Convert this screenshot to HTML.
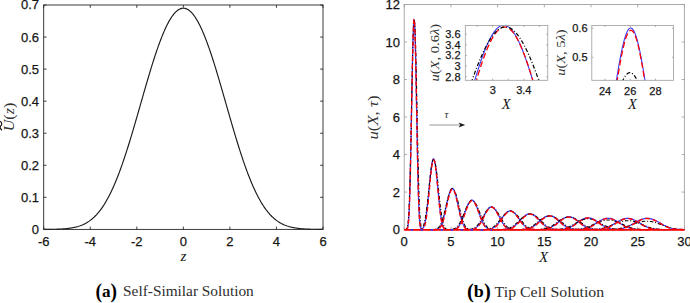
<!DOCTYPE html>
<html><head><meta charset="utf-8"><style>
html,body{margin:0;padding:0;background:#fff;}
body{width:690px;height:303px;overflow:hidden;}
svg{display:block;font-family:"Liberation Sans",sans-serif;}
.t{stroke:#161616;stroke-width:0.25px;}
</style></head><body>
<svg width="690" height="303" viewBox="0 0 690 303">
<rect width="690" height="303" fill="#fff"/>
<path d="M43.7,229.37 L44.4,229.37 L45.1,229.37 L45.8,229.36 L46.5,229.36 L47.2,229.35 L47.9,229.34 L48.6,229.34 L49.3,229.33 L50,229.32 L50.7,229.31 L51.4,229.3 L52.1,229.29 L52.8,229.28 L53.5,229.27 L54.2,229.25 L54.9,229.23 L55.6,229.22 L56.3,229.2 L57,229.17 L57.7,229.15 L58.4,229.12 L59.1,229.1 L59.8,229.07 L60.5,229.03 L61.2,229 L61.9,228.96 L62.6,228.91 L63.3,228.87 L64,228.82 L64.7,228.76 L65.4,228.7 L66.1,228.64 L66.8,228.57 L67.5,228.49 L68.2,228.41 L68.9,228.33 L69.6,228.24 L70.3,228.14 L71,228.03 L71.7,227.92 L72.4,227.8 L73.1,227.67 L73.8,227.53 L74.5,227.38 L75.2,227.22 L75.9,227.05 L76.6,226.87 L77.3,226.68 L78,226.48 L78.7,226.26 L79.4,226.04 L80.1,225.8 L80.8,225.54 L81.5,225.27 L82.2,224.98 L82.9,224.68 L83.6,224.36 L84.3,224.03 L85,223.67 L85.7,223.3 L86.4,222.91 L87.1,222.5 L87.8,222.07 L88.5,221.61 L89.2,221.14 L89.9,220.64 L90.6,220.12 L91.3,219.58 L92,219.01 L92.7,218.41 L93.4,217.79 L94.1,217.15 L94.8,216.47 L95.5,215.77 L96.2,215.04 L96.9,214.28 L97.6,213.49 L98.3,212.68 L99,211.83 L99.7,210.95 L100.4,210.03 L101.1,209.09 L101.8,208.11 L102.5,207.1 L103.2,206.06 L103.9,204.98 L104.6,203.87 L105.3,202.73 L106,201.55 L106.7,200.33 L107.4,199.08 L108.1,197.79 L108.8,196.47 L109.5,195.11 L110.2,193.72 L110.9,192.28 L111.6,190.82 L112.3,189.32 L113,187.78 L113.7,186.2 L114.4,184.59 L115.1,182.95 L115.8,181.27 L116.5,179.55 L117.2,177.8 L117.9,176.02 L118.6,174.2 L119.3,172.34 L120,170.46 L120.7,168.54 L121.4,166.59 L122.1,164.61 L122.8,162.6 L123.5,160.56 L124.2,158.49 L124.9,156.39 L125.6,154.27 L126.3,152.11 L127,149.94 L127.7,147.73 L128.4,145.51 L129.1,143.26 L129.8,140.99 L130.5,138.69 L131.2,136.38 L131.9,134.05 L132.6,131.71 L133.3,129.34 L134,126.97 L134.7,124.58 L135.4,122.17 L136.1,119.76 L136.8,117.34 L137.5,114.91 L138.2,112.47 L138.9,110.03 L139.6,107.58 L140.3,105.14 L141,102.69 L141.7,100.24 L142.4,97.79 L143.1,95.35 L143.8,92.92 L144.5,90.49 L145.2,88.06 L145.9,85.65 L146.6,83.25 L147.3,80.87 L148,78.49 L148.7,76.14 L149.4,73.8 L150.1,71.48 L150.8,69.18 L151.5,66.9 L152.2,64.65 L152.9,62.42 L153.6,60.22 L154.3,58.05 L155,55.9 L155.7,53.79 L156.4,51.71 L157.1,49.67 L157.8,47.66 L158.5,45.68 L159.2,43.75 L159.9,41.85 L160.6,39.99 L161.3,38.18 L162,36.41 L162.7,34.68 L163.4,33 L164.1,31.37 L164.8,29.78 L165.5,28.25 L166.2,26.76 L166.9,25.32 L167.6,23.94 L168.3,22.61 L169,21.33 L169.7,20.11 L170.4,18.95 L171.1,17.84 L171.8,16.78 L172.5,15.79 L173.2,14.85 L173.9,13.98 L174.6,13.16 L175.3,12.41 L176,11.71 L176.7,11.08 L177.4,10.51 L178.1,10 L178.8,9.55 L179.5,9.17 L180.2,8.85 L180.9,8.6 L181.6,8.41 L182.3,8.28 L183,8.21 L183.7,8.21 L184.4,8.28 L185.1,8.41 L185.8,8.6 L186.5,8.85 L187.2,9.17 L187.9,9.55 L188.6,10 L189.3,10.51 L190,11.08 L190.7,11.71 L191.4,12.41 L192.1,13.16 L192.8,13.98 L193.5,14.85 L194.2,15.79 L194.9,16.78 L195.6,17.84 L196.3,18.95 L197,20.11 L197.7,21.33 L198.4,22.61 L199.1,23.94 L199.8,25.32 L200.5,26.76 L201.2,28.25 L201.9,29.78 L202.6,31.37 L203.3,33 L204,34.68 L204.7,36.41 L205.4,38.18 L206.1,39.99 L206.8,41.85 L207.5,43.75 L208.2,45.68 L208.9,47.66 L209.6,49.67 L210.3,51.71 L211,53.79 L211.7,55.9 L212.4,58.05 L213.1,60.22 L213.8,62.42 L214.5,64.65 L215.2,66.9 L215.9,69.18 L216.6,71.48 L217.3,73.8 L218,76.14 L218.7,78.49 L219.4,80.87 L220.1,83.25 L220.8,85.65 L221.5,88.06 L222.2,90.49 L222.9,92.92 L223.6,95.35 L224.3,97.79 L225,100.24 L225.7,102.69 L226.4,105.14 L227.1,107.58 L227.8,110.03 L228.5,112.47 L229.2,114.91 L229.9,117.34 L230.6,119.76 L231.3,122.17 L232,124.58 L232.7,126.97 L233.4,129.34 L234.1,131.71 L234.8,134.05 L235.5,136.38 L236.2,138.69 L236.9,140.99 L237.6,143.26 L238.3,145.51 L239,147.73 L239.7,149.94 L240.4,152.11 L241.1,154.27 L241.8,156.39 L242.5,158.49 L243.2,160.56 L243.9,162.6 L244.6,164.61 L245.3,166.59 L246,168.54 L246.7,170.46 L247.4,172.34 L248.1,174.2 L248.8,176.02 L249.5,177.8 L250.2,179.55 L250.9,181.27 L251.6,182.95 L252.3,184.59 L253,186.2 L253.7,187.78 L254.4,189.32 L255.1,190.82 L255.8,192.28 L256.5,193.72 L257.2,195.11 L257.9,196.47 L258.6,197.79 L259.3,199.08 L260,200.33 L260.7,201.55 L261.4,202.73 L262.1,203.87 L262.8,204.98 L263.5,206.06 L264.2,207.1 L264.9,208.11 L265.6,209.09 L266.3,210.03 L267,210.95 L267.7,211.83 L268.4,212.68 L269.1,213.49 L269.8,214.28 L270.5,215.04 L271.2,215.77 L271.9,216.47 L272.6,217.15 L273.3,217.79 L274,218.41 L274.7,219.01 L275.4,219.58 L276.1,220.12 L276.8,220.64 L277.5,221.14 L278.2,221.61 L278.9,222.07 L279.6,222.5 L280.3,222.91 L281,223.3 L281.7,223.67 L282.4,224.03 L283.1,224.36 L283.8,224.68 L284.5,224.98 L285.2,225.27 L285.9,225.54 L286.6,225.8 L287.3,226.04 L288,226.26 L288.7,226.48 L289.4,226.68 L290.1,226.87 L290.8,227.05 L291.5,227.22 L292.2,227.38 L292.9,227.53 L293.6,227.67 L294.3,227.8 L295,227.92 L295.7,228.03 L296.4,228.14 L297.1,228.24 L297.8,228.33 L298.5,228.41 L299.2,228.49 L299.9,228.57 L300.6,228.64 L301.3,228.7 L302,228.76 L302.7,228.82 L303.4,228.87 L304.1,228.91 L304.8,228.96 L305.5,229 L306.2,229.03 L306.9,229.07 L307.6,229.1 L308.3,229.12 L309,229.15 L309.7,229.17 L310.4,229.2 L311.1,229.22 L311.8,229.23 L312.5,229.25 L313.2,229.27 L313.9,229.28 L314.6,229.29 L315.3,229.3 L316,229.31 L316.7,229.32 L317.4,229.33 L318.1,229.34 L318.8,229.34 L319.5,229.35 L320.2,229.36 L320.9,229.36 L321.6,229.37 L322.3,229.37 L323,229.37" fill="none" stroke="#1a1a1a" stroke-width="1.15"/>
<rect x="43.7" y="5" width="279.3" height="224.4" fill="none" stroke="#262626" stroke-width="0.9"/>
<path d="M43.7,229.4 V226.6 M43.7,5 V7.8 M90.25,229.4 V226.6 M90.25,5 V7.8 M136.8,229.4 V226.6 M136.8,5 V7.8 M183.35,229.4 V226.6 M183.35,5 V7.8 M229.9,229.4 V226.6 M229.9,5 V7.8 M276.45,229.4 V226.6 M276.45,5 V7.8 M323,229.4 V226.6 M323,5 V7.8 M43.7,229.4 H46.5 M323,229.4 H320.2 M43.7,197.34 H46.5 M323,197.34 H320.2 M43.7,165.29 H46.5 M323,165.29 H320.2 M43.7,133.23 H46.5 M323,133.23 H320.2 M43.7,101.17 H46.5 M323,101.17 H320.2 M43.7,69.11 H46.5 M323,69.11 H320.2 M43.7,37.06 H46.5 M323,37.06 H320.2 M43.7,5 H46.5 M323,5 H320.2" stroke="#262626" stroke-width="0.9" fill="none"/>
<text x="43.7" y="246" font-size="13" class="t" text-anchor="middle" fill="#161616">-6</text>
<text x="90.25" y="246" font-size="13" class="t" text-anchor="middle" fill="#161616">-4</text>
<text x="136.8" y="246" font-size="13" class="t" text-anchor="middle" fill="#161616">-2</text>
<text x="183.35" y="246" font-size="13" class="t" text-anchor="middle" fill="#161616">0</text>
<text x="229.9" y="246" font-size="13" class="t" text-anchor="middle" fill="#161616">2</text>
<text x="276.45" y="246" font-size="13" class="t" text-anchor="middle" fill="#161616">4</text>
<text x="323" y="246" font-size="13" class="t" text-anchor="middle" fill="#161616">6</text>
<text x="39" y="234" font-size="13" class="t" text-anchor="end" fill="#161616">0</text>
<text x="39" y="201.94" font-size="13" class="t" text-anchor="end" fill="#161616">0.1</text>
<text x="39" y="169.89" font-size="13" class="t" text-anchor="end" fill="#161616">0.2</text>
<text x="39" y="137.83" font-size="13" class="t" text-anchor="end" fill="#161616">0.3</text>
<text x="39" y="105.77" font-size="13" class="t" text-anchor="end" fill="#161616">0.4</text>
<text x="39" y="73.71" font-size="13" class="t" text-anchor="end" fill="#161616">0.5</text>
<text x="39" y="41.66" font-size="13" class="t" text-anchor="end" fill="#161616">0.6</text>
<text x="39" y="9.1" font-size="13" class="t" text-anchor="end" fill="#161616">0.7</text>
<rect x="404.2" y="4.5" width="280.2" height="225.1" fill="none" stroke="#a2a2a2" stroke-width="0.9"/>
<path d="M404.2,229.6 V226.8 M404.2,4.5 V7.3 M450.9,229.6 V226.8 M450.9,4.5 V7.3 M497.6,229.6 V226.8 M497.6,4.5 V7.3 M544.3,229.6 V226.8 M544.3,4.5 V7.3 M591,229.6 V226.8 M591,4.5 V7.3 M637.7,229.6 V226.8 M637.7,4.5 V7.3 M684.4,229.6 V226.8 M684.4,4.5 V7.3 M404.2,229.6 H407 M684.4,229.6 H681.6 M404.2,192.08 H407 M684.4,192.08 H681.6 M404.2,154.57 H407 M684.4,154.57 H681.6 M404.2,117.05 H407 M684.4,117.05 H681.6 M404.2,79.53 H407 M684.4,79.53 H681.6 M404.2,42.02 H407 M684.4,42.02 H681.6 M404.2,4.5 H407 M684.4,4.5 H681.6" stroke="#a2a2a2" stroke-width="0.9" fill="none"/>
<path d="M405.28,229.59 L405.48,229.59 L405.68,229.58 L405.87,229.57 L406.07,229.54 L406.27,229.5 L406.47,229.44 L406.67,229.33 L406.87,229.18 L407.06,228.96 L407.26,228.63 L407.46,228.17 L407.66,227.54 L407.86,226.69 L408.05,225.56 L408.25,224.09 L408.45,222.23 L408.65,219.89 L408.85,217.02 L409.05,213.55 L409.24,209.41 L409.44,204.57 L409.64,198.99 L409.84,192.63 L410.04,185.51 L410.24,177.63 L410.43,169.03 L410.63,159.77 L410.83,149.92 L411.03,139.59 L411.23,128.89 L411.42,117.95 L411.62,106.91 L411.82,95.92 L412.02,85.13 L412.22,74.71 L412.42,64.8 L412.61,55.57 L412.81,47.15 L413.01,39.66 L413.21,33.24 L413.41,27.98 L413.6,23.95 L413.8,21.24 L414,19.87 L414.2,19.87 L414.4,21.24 L414.6,23.95 L414.79,27.98 L414.99,33.24 L415.19,39.66 L415.39,47.15 L415.59,55.57 L415.78,64.8 L415.98,74.71 L416.18,85.13 L416.38,95.92 L416.58,106.91 L416.78,117.95 L416.97,128.89 L417.17,139.59 L417.37,149.92 L417.57,159.77 L417.77,169.03 L417.96,177.63 L418.16,185.51 L418.36,192.63 L418.56,198.99 L418.76,204.57 L418.96,209.41 L419.15,213.55 L419.35,217.02 L419.55,219.89 L419.75,222.23 L419.95,224.09 L420.15,225.56 L420.34,226.69 L420.54,227.54 L420.74,228.17 L420.94,228.63 L421.14,228.96 L421.33,229.18 L421.53,229.33 L421.73,229.44 L421.93,229.5 L422.13,229.54 L422.33,229.57 L422.52,229.58 L422.72,229.59 L422.92,229.59 M418.02,229.6 L418.37,229.6 L418.72,229.59 L419.06,229.59 L419.41,229.58 L419.76,229.57 L420.11,229.54 L420.46,229.51 L420.8,229.46 L421.15,229.38 L421.5,229.27 L421.85,229.12 L422.19,228.91 L422.54,228.62 L422.89,228.24 L423.24,227.75 L423.59,227.12 L423.93,226.33 L424.28,225.36 L424.63,224.19 L424.98,222.8 L425.33,221.17 L425.67,219.29 L426.02,217.14 L426.37,214.74 L426.72,212.09 L427.06,209.19 L427.41,206.07 L427.76,202.76 L428.11,199.28 L428.46,195.67 L428.8,191.98 L429.15,188.26 L429.5,184.56 L429.85,180.93 L430.2,177.42 L430.54,174.08 L430.89,170.97 L431.24,168.13 L431.59,165.61 L431.93,163.44 L432.28,161.67 L432.63,160.32 L432.98,159.4 L433.33,158.94 L433.67,158.94 L434.02,159.4 L434.37,160.32 L434.72,161.67 L435.07,163.44 L435.41,165.61 L435.76,168.13 L436.11,170.97 L436.46,174.08 L436.8,177.42 L437.15,180.93 L437.5,184.56 L437.85,188.26 L438.2,191.98 L438.54,195.67 L438.89,199.28 L439.24,202.76 L439.59,206.07 L439.94,209.19 L440.28,212.09 L440.63,214.74 L440.98,217.14 L441.33,219.29 L441.67,221.17 L442.02,222.8 L442.37,224.19 L442.72,225.36 L443.07,226.33 L443.41,227.12 L443.76,227.75 L444.11,228.24 L444.46,228.62 L444.81,228.91 L445.15,229.12 L445.5,229.27 L445.85,229.38 L446.2,229.46 L446.54,229.51 L446.89,229.54 L447.24,229.57 L447.59,229.58 L447.94,229.59 L448.28,229.59 L448.63,229.6 L448.98,229.6 M431.42,229.6 L431.89,229.6 L432.36,229.6 L432.83,229.59 L433.3,229.59 L433.77,229.58 L434.24,229.57 L434.7,229.55 L435.17,229.52 L435.64,229.47 L436.11,229.41 L436.58,229.32 L437.05,229.2 L437.52,229.03 L437.99,228.81 L438.46,228.52 L438.93,228.15 L439.4,227.69 L439.87,227.13 L440.34,226.45 L440.8,225.64 L441.27,224.69 L441.74,223.59 L442.21,222.35 L442.68,220.95 L443.15,219.4 L443.62,217.71 L444.09,215.9 L444.56,213.96 L445.03,211.94 L445.5,209.84 L445.97,207.69 L446.43,205.52 L446.9,203.36 L447.37,201.25 L447.84,199.2 L448.31,197.26 L448.78,195.45 L449.25,193.79 L449.72,192.33 L450.19,191.07 L450.66,190.03 L451.13,189.24 L451.6,188.71 L452.07,188.44 L452.53,188.44 L453,188.71 L453.47,189.24 L453.94,190.03 L454.41,191.07 L454.88,192.33 L455.35,193.79 L455.82,195.45 L456.29,197.26 L456.76,199.2 L457.23,201.25 L457.7,203.36 L458.17,205.52 L458.63,207.69 L459.1,209.84 L459.57,211.94 L460.04,213.96 L460.51,215.9 L460.98,217.71 L461.45,219.4 L461.92,220.95 L462.39,222.35 L462.86,223.59 L463.33,224.69 L463.8,225.64 L464.26,226.45 L464.73,227.13 L465.2,227.69 L465.67,228.15 L466.14,228.52 L466.61,228.81 L467.08,229.03 L467.55,229.2 L468.02,229.32 L468.49,229.41 L468.96,229.47 L469.43,229.52 L469.9,229.55 L470.36,229.57 L470.83,229.58 L471.3,229.59 L471.77,229.59 L472.24,229.6 L472.71,229.6 L473.18,229.6 M447.06,229.6 L447.62,229.6 L448.18,229.6 L448.73,229.6 L449.29,229.59 L449.85,229.59 L450.41,229.58 L450.97,229.56 L451.53,229.54 L452.08,229.51 L452.64,229.46 L453.2,229.4 L453.76,229.31 L454.32,229.19 L454.87,229.03 L455.43,228.83 L455.99,228.57 L456.55,228.24 L457.11,227.84 L457.67,227.35 L458.22,226.77 L458.78,226.1 L459.34,225.31 L459.9,224.42 L460.46,223.43 L461.02,222.32 L461.57,221.12 L462.13,219.82 L462.69,218.44 L463.25,217 L463.81,215.5 L464.36,213.96 L464.92,212.42 L465.48,210.88 L466.04,209.37 L466.6,207.91 L467.16,206.52 L467.71,205.23 L468.27,204.05 L468.83,203 L469.39,202.1 L469.95,201.37 L470.5,200.8 L471.06,200.42 L471.62,200.23 L472.18,200.23 L472.74,200.42 L473.3,200.8 L473.85,201.37 L474.41,202.1 L474.97,203 L475.53,204.05 L476.09,205.23 L476.64,206.52 L477.2,207.91 L477.76,209.37 L478.32,210.88 L478.88,212.42 L479.44,213.96 L479.99,215.5 L480.55,217 L481.11,218.44 L481.67,219.82 L482.23,221.12 L482.78,222.32 L483.34,223.43 L483.9,224.42 L484.46,225.31 L485.02,226.1 L485.58,226.77 L486.13,227.35 L486.69,227.84 L487.25,228.24 L487.81,228.57 L488.37,228.83 L488.93,229.03 L489.48,229.19 L490.04,229.31 L490.6,229.4 L491.16,229.46 L491.72,229.51 L492.27,229.54 L492.83,229.56 L493.39,229.58 L493.95,229.59 L494.51,229.59 L495.07,229.6 L495.62,229.6 L496.18,229.6 L496.74,229.6 M464.04,229.6 L464.65,229.6 L465.27,229.6 L465.88,229.6 L466.5,229.59 L467.11,229.59 L467.73,229.58 L468.34,229.57 L468.96,229.55 L469.57,229.53 L470.19,229.5 L470.8,229.45 L471.42,229.38 L472.03,229.29 L472.65,229.16 L473.26,229 L473.88,228.8 L474.49,228.55 L475.11,228.24 L475.72,227.86 L476.34,227.42 L476.95,226.89 L477.57,226.29 L478.18,225.6 L478.8,224.83 L479.41,223.98 L480.03,223.05 L480.64,222.05 L481.26,220.98 L481.87,219.87 L482.48,218.71 L483.1,217.53 L483.71,216.33 L484.33,215.14 L484.94,213.98 L485.56,212.85 L486.17,211.78 L486.79,210.78 L487.4,209.87 L488.02,209.06 L488.63,208.37 L489.25,207.8 L489.86,207.36 L490.48,207.07 L491.09,206.92 L491.71,206.92 L492.32,207.07 L492.94,207.36 L493.55,207.8 L494.17,208.37 L494.78,209.06 L495.4,209.87 L496.01,210.78 L496.63,211.78 L497.24,212.85 L497.86,213.98 L498.47,215.14 L499.09,216.33 L499.7,217.53 L500.32,218.71 L500.93,219.87 L501.54,220.98 L502.16,222.05 L502.77,223.05 L503.39,223.98 L504,224.83 L504.62,225.6 L505.23,226.29 L505.85,226.89 L506.46,227.42 L507.08,227.86 L507.69,228.24 L508.31,228.55 L508.92,228.8 L509.54,229 L510.15,229.16 L510.77,229.29 L511.38,229.38 L512,229.45 L512.61,229.5 L513.23,229.53 L513.84,229.55 L514.46,229.57 L515.07,229.58 L515.69,229.59 L516.3,229.59 L516.92,229.6 L517.53,229.6 L518.15,229.6 L518.76,229.6 M479.52,229.6 L480.21,229.6 L480.9,229.6 L481.6,229.6 L482.29,229.59 L482.98,229.59 L483.67,229.59 L484.36,229.58 L485.05,229.56 L485.75,229.54 L486.44,229.51 L487.13,229.47 L487.82,229.42 L488.51,229.34 L489.2,229.24 L489.9,229.11 L490.59,228.94 L491.28,228.74 L491.97,228.48 L492.66,228.17 L493.35,227.8 L494.05,227.37 L494.74,226.87 L495.43,226.31 L496.12,225.67 L496.81,224.97 L497.5,224.2 L498.2,223.38 L498.89,222.5 L499.58,221.58 L500.27,220.63 L500.96,219.65 L501.65,218.67 L502.35,217.69 L503.04,216.73 L503.73,215.8 L504.42,214.92 L505.11,214.09 L505.8,213.34 L506.5,212.68 L507.19,212.1 L507.88,211.64 L508.57,211.28 L509.26,211.04 L509.95,210.91 L510.65,210.91 L511.34,211.04 L512.03,211.28 L512.72,211.64 L513.41,212.1 L514.1,212.68 L514.8,213.34 L515.49,214.09 L516.18,214.92 L516.87,215.8 L517.56,216.73 L518.25,217.69 L518.95,218.67 L519.64,219.65 L520.33,220.63 L521.02,221.58 L521.71,222.5 L522.4,223.38 L523.1,224.2 L523.79,224.97 L524.48,225.67 L525.17,226.31 L525.86,226.87 L526.55,227.37 L527.25,227.8 L527.94,228.17 L528.63,228.48 L529.32,228.74 L530.01,228.94 L530.7,229.11 L531.4,229.24 L532.09,229.34 L532.78,229.42 L533.47,229.47 L534.16,229.51 L534.85,229.54 L535.55,229.56 L536.24,229.58 L536.93,229.59 L537.62,229.59 L538.31,229.59 L539,229.6 L539.7,229.6 L540.39,229.6 L541.08,229.6 M495.34,229.6 L496.12,229.6 L496.89,229.6 L497.67,229.6 L498.45,229.6 L499.22,229.59 L500,229.59 L500.78,229.58 L501.55,229.57 L502.33,229.55 L503.11,229.53 L503.88,229.49 L504.66,229.45 L505.44,229.38 L506.21,229.3 L506.99,229.19 L507.77,229.05 L508.54,228.87 L509.32,228.66 L510.1,228.4 L510.87,228.09 L511.65,227.73 L512.43,227.31 L513.2,226.83 L513.98,226.3 L514.76,225.71 L515.53,225.07 L516.31,224.38 L517.09,223.64 L517.86,222.87 L518.64,222.07 L519.42,221.25 L520.19,220.42 L520.97,219.6 L521.75,218.79 L522.52,218.01 L523.3,217.27 L524.08,216.58 L524.85,215.95 L525.63,215.39 L526.41,214.91 L527.18,214.52 L527.96,214.22 L528.74,214.01 L529.51,213.91 L530.29,213.91 L531.06,214.01 L531.84,214.22 L532.62,214.52 L533.39,214.91 L534.17,215.39 L534.95,215.95 L535.72,216.58 L536.5,217.27 L537.28,218.01 L538.05,218.79 L538.83,219.6 L539.61,220.42 L540.38,221.25 L541.16,222.07 L541.94,222.87 L542.71,223.64 L543.49,224.38 L544.27,225.07 L545.04,225.71 L545.82,226.3 L546.6,226.83 L547.37,227.31 L548.15,227.73 L548.93,228.09 L549.7,228.4 L550.48,228.66 L551.26,228.87 L552.03,229.05 L552.81,229.19 L553.59,229.3 L554.36,229.38 L555.14,229.45 L555.92,229.49 L556.69,229.53 L557.47,229.55 L558.25,229.57 L559.02,229.58 L559.8,229.59 L560.58,229.59 L561.35,229.6 L562.13,229.6 L562.91,229.6 L563.68,229.6 L564.46,229.6 M513.14,229.6 L513.96,229.6 L514.77,229.6 L515.59,229.6 L516.41,229.6 L517.23,229.59 L518.04,229.59 L518.86,229.58 L519.68,229.57 L520.49,229.56 L521.31,229.54 L522.13,229.51 L522.94,229.46 L523.76,229.41 L524.58,229.33 L525.4,229.24 L526.21,229.12 L527.03,228.96 L527.85,228.77 L528.66,228.54 L529.48,228.27 L530.3,227.95 L531.12,227.59 L531.93,227.17 L532.75,226.7 L533.57,226.18 L534.38,225.62 L535.2,225.01 L536.02,224.36 L536.84,223.68 L537.65,222.98 L538.47,222.26 L539.29,221.53 L540.1,220.81 L540.92,220.1 L541.74,219.41 L542.55,218.76 L543.37,218.15 L544.19,217.6 L545.01,217.11 L545.82,216.68 L546.64,216.34 L547.46,216.07 L548.27,215.9 L549.09,215.81 L549.91,215.81 L550.73,215.9 L551.54,216.07 L552.36,216.34 L553.18,216.68 L553.99,217.11 L554.81,217.6 L555.63,218.15 L556.45,218.76 L557.26,219.41 L558.08,220.1 L558.9,220.81 L559.71,221.53 L560.53,222.26 L561.35,222.98 L562.16,223.68 L562.98,224.36 L563.8,225.01 L564.62,225.62 L565.43,226.18 L566.25,226.7 L567.07,227.17 L567.88,227.59 L568.7,227.95 L569.52,228.27 L570.34,228.54 L571.15,228.77 L571.97,228.96 L572.79,229.12 L573.6,229.24 L574.42,229.33 L575.24,229.41 L576.06,229.46 L576.87,229.51 L577.69,229.54 L578.51,229.56 L579.32,229.57 L580.14,229.58 L580.96,229.59 L581.77,229.59 L582.59,229.6 L583.41,229.6 L584.23,229.6 L585.04,229.6 L585.86,229.6 M531.36,229.6 L532.2,229.6 L533.04,229.6 L533.88,229.6 L534.73,229.6 L535.57,229.59 L536.41,229.59 L537.25,229.58 L538.09,229.57 L538.93,229.56 L539.77,229.54 L540.61,229.51 L541.46,229.48 L542.3,229.42 L543.14,229.36 L543.98,229.27 L544.82,229.15 L545.66,229.01 L546.5,228.84 L547.35,228.63 L548.19,228.38 L549.03,228.09 L549.87,227.75 L550.71,227.36 L551.55,226.93 L552.39,226.46 L553.24,225.94 L554.08,225.38 L554.92,224.78 L555.76,224.15 L556.6,223.51 L557.44,222.85 L558.28,222.18 L559.12,221.51 L559.97,220.86 L560.81,220.23 L561.65,219.63 L562.49,219.07 L563.33,218.56 L564.17,218.11 L565.01,217.72 L565.86,217.4 L566.7,217.16 L567.54,216.99 L568.38,216.91 L569.22,216.91 L570.06,216.99 L570.9,217.16 L571.74,217.4 L572.59,217.72 L573.43,218.11 L574.27,218.56 L575.11,219.07 L575.95,219.63 L576.79,220.23 L577.63,220.86 L578.48,221.51 L579.32,222.18 L580.16,222.85 L581,223.51 L581.84,224.15 L582.68,224.78 L583.52,225.38 L584.36,225.94 L585.21,226.46 L586.05,226.93 L586.89,227.36 L587.73,227.75 L588.57,228.09 L589.41,228.38 L590.25,228.63 L591.1,228.84 L591.94,229.01 L592.78,229.15 L593.62,229.27 L594.46,229.36 L595.3,229.42 L596.14,229.48 L596.99,229.51 L597.83,229.54 L598.67,229.56 L599.51,229.57 L600.35,229.58 L601.19,229.59 L602.03,229.59 L602.87,229.6 L603.72,229.6 L604.56,229.6 L605.4,229.6 L606.24,229.6 M549.12,229.6 L549.99,229.6 L550.87,229.6 L551.74,229.6 L552.61,229.6 L553.49,229.59 L554.36,229.59 L555.24,229.59 L556.11,229.58 L556.98,229.56 L557.86,229.55 L558.73,229.52 L559.6,229.49 L560.48,229.44 L561.35,229.37 L562.23,229.29 L563.1,229.19 L563.97,229.06 L564.85,228.9 L565.72,228.7 L566.59,228.47 L567.47,228.2 L568.34,227.89 L569.22,227.54 L570.09,227.14 L570.96,226.7 L571.84,226.22 L572.71,225.7 L573.58,225.15 L574.46,224.57 L575.33,223.98 L576.2,223.36 L577.08,222.75 L577.95,222.13 L578.83,221.53 L579.7,220.95 L580.57,220.4 L581.45,219.88 L582.32,219.41 L583.19,218.99 L584.07,218.63 L584.94,218.34 L585.82,218.11 L586.69,217.96 L587.56,217.89 L588.44,217.89 L589.31,217.96 L590.18,218.11 L591.06,218.34 L591.93,218.63 L592.81,218.99 L593.68,219.41 L594.55,219.88 L595.43,220.4 L596.3,220.95 L597.17,221.53 L598.05,222.13 L598.92,222.75 L599.8,223.36 L600.67,223.98 L601.54,224.57 L602.42,225.15 L603.29,225.7 L604.16,226.22 L605.04,226.7 L605.91,227.14 L606.78,227.54 L607.66,227.89 L608.53,228.2 L609.41,228.47 L610.28,228.7 L611.15,228.9 L612.03,229.06 L612.9,229.19 L613.77,229.29 L614.65,229.37 L615.52,229.44 L616.4,229.49 L617.27,229.52 L618.14,229.55 L619.02,229.56 L619.89,229.58 L620.76,229.59 L621.64,229.59 L622.51,229.59 L623.39,229.6 L624.26,229.6 L625.13,229.6 L626.01,229.6 L626.88,229.6 M566.6,229.6 L567.53,229.6 L568.46,229.6 L569.39,229.6 L570.32,229.6 L571.25,229.59 L572.18,229.59 L573.11,229.59 L574.04,229.58 L574.97,229.57 L575.9,229.55 L576.83,229.52 L577.76,229.49 L578.69,229.44 L579.62,229.38 L580.56,229.3 L581.49,229.2 L582.42,229.08 L583.35,228.92 L584.28,228.73 L585.21,228.51 L586.14,228.25 L587.07,227.94 L588,227.6 L588.93,227.22 L589.86,226.79 L590.79,226.33 L591.72,225.82 L592.65,225.29 L593.58,224.73 L594.51,224.16 L595.44,223.56 L596.37,222.97 L597.3,222.37 L598.23,221.79 L599.16,221.23 L600.09,220.69 L601.02,220.19 L601.95,219.74 L602.88,219.33 L603.81,218.98 L604.74,218.7 L605.67,218.48 L606.6,218.33 L607.53,218.26 L608.47,218.26 L609.4,218.33 L610.33,218.48 L611.26,218.7 L612.19,218.98 L613.12,219.33 L614.05,219.74 L614.98,220.19 L615.91,220.69 L616.84,221.23 L617.77,221.79 L618.7,222.37 L619.63,222.97 L620.56,223.56 L621.49,224.16 L622.42,224.73 L623.35,225.29 L624.28,225.82 L625.21,226.33 L626.14,226.79 L627.07,227.22 L628,227.6 L628.93,227.94 L629.86,228.25 L630.79,228.51 L631.72,228.73 L632.65,228.92 L633.58,229.08 L634.51,229.2 L635.44,229.3 L636.38,229.38 L637.31,229.44 L638.24,229.49 L639.17,229.52 L640.1,229.55 L641.03,229.57 L641.96,229.58 L642.89,229.59 L643.82,229.59 L644.75,229.59 L645.68,229.6 L646.61,229.6 L647.54,229.6 L648.47,229.6 L649.4,229.6 M584.4,229.6 L585.37,229.6 L586.34,229.6 L587.31,229.6 L588.28,229.6 L589.25,229.59 L590.22,229.59 L591.2,229.59 L592.17,229.58 L593.14,229.57 L594.11,229.55 L595.08,229.52 L596.05,229.49 L597.02,229.44 L597.99,229.38 L598.96,229.31 L599.93,229.21 L600.9,229.08 L601.87,228.93 L602.84,228.74 L603.82,228.52 L604.79,228.26 L605.76,227.96 L606.73,227.62 L607.7,227.24 L608.67,226.82 L609.64,226.36 L610.61,225.87 L611.58,225.34 L612.55,224.79 L613.52,224.22 L614.49,223.63 L615.47,223.04 L616.44,222.46 L617.41,221.88 L618.38,221.32 L619.35,220.79 L620.32,220.3 L621.29,219.85 L622.26,219.45 L623.23,219.11 L624.2,218.83 L625.17,218.61 L626.14,218.46 L627.11,218.39 L628.09,218.39 L629.06,218.46 L630.03,218.61 L631,218.83 L631.97,219.11 L632.94,219.45 L633.91,219.85 L634.88,220.3 L635.85,220.79 L636.82,221.32 L637.79,221.88 L638.76,222.46 L639.73,223.04 L640.71,223.63 L641.68,224.22 L642.65,224.79 L643.62,225.34 L644.59,225.87 L645.56,226.36 L646.53,226.82 L647.5,227.24 L648.47,227.62 L649.44,227.96 L650.41,228.26 L651.38,228.52 L652.36,228.74 L653.33,228.93 L654.3,229.08 L655.27,229.21 L656.24,229.31 L657.21,229.38 L658.18,229.44 L659.15,229.49 L660.12,229.52 L661.09,229.55 L662.06,229.57 L663.03,229.58 L664,229.59 L664.98,229.59 L665.95,229.59 L666.92,229.6 L667.89,229.6 L668.86,229.6 L669.83,229.6 L670.8,229.6 M601.48,229.6 L602.41,229.6 L603.34,229.6 L604.28,229.6 L605.21,229.6 L606.14,229.6 L607.07,229.59 L608,229.59 L608.93,229.58 L609.87,229.58 L610.8,229.56 L611.73,229.55 L612.66,229.53 L613.59,229.5 L614.52,229.46 L615.46,229.41 L616.39,229.35 L617.32,229.27 L618.25,229.17 L619.18,229.05 L620.11,228.9 L621.05,228.73 L621.98,228.53 L622.91,228.3 L623.84,228.03 L624.77,227.73 L625.7,227.4 L626.64,227.04 L627.57,226.64 L628.5,226.21 L629.43,225.75 L630.36,225.27 L631.29,224.76 L632.23,224.24 L633.16,223.71 L634.09,223.18 L635.02,222.64 L635.95,222.11 L636.88,221.59 L637.82,221.1 L638.75,220.62 L639.68,220.18 L640.61,219.78 L641.54,219.42 L642.47,219.1 L643.41,218.84 L644.34,218.63 L645.27,218.47 L646.2,218.38 L647.13,218.35 L648.06,218.37 L649,218.46 L649.93,218.6 L650.86,218.8 L651.79,219.06 L652.72,219.37 L653.65,219.73 L654.59,220.12 L655.52,220.56 L656.45,221.03 L657.38,221.52 L658.31,222.03 L659.24,222.56 L660.18,223.1 L661.11,223.64 L662.04,224.17 L662.97,224.69 L663.9,225.2 L664.83,225.68 L665.77,226.14 L666.7,226.58 L667.63,226.98 L668.56,227.35 L669.49,227.69 L670.42,227.99 L671.36,228.26 L672.29,228.5 L673.22,228.7 L674.15,228.88 L675.08,229.03 L676.01,229.15 L676.95,229.25 L677.88,229.34 L678.81,229.4 L679.74,229.45 L680.67,229.49 L681.6,229.52 L682.54,229.55 L683.47,229.56 L684.4,229.57" fill="none" stroke="#3a3aff" stroke-width="1.25"/>
<path d="M404.58,229.59 L404.8,229.59 L405.02,229.58 L405.24,229.57 L405.46,229.54 L405.67,229.5 L405.89,229.44 L406.11,229.34 L406.33,229.18 L406.55,228.96 L406.77,228.64 L406.98,228.18 L407.2,227.55 L407.42,226.7 L407.64,225.58 L407.86,224.12 L408.07,222.26 L408.29,219.94 L408.51,217.08 L408.73,213.63 L408.95,209.52 L409.16,204.7 L409.38,199.14 L409.6,192.82 L409.82,185.73 L410.04,177.89 L410.25,169.33 L410.47,160.12 L410.69,150.32 L410.91,140.04 L411.13,129.4 L411.34,118.51 L411.56,107.52 L411.78,96.58 L412,85.85 L412.22,75.48 L412.43,65.63 L412.65,56.44 L412.87,48.06 L413.09,40.61 L413.31,34.22 L413.52,28.98 L413.74,24.98 L413.96,22.28 L414.18,20.91 L414.4,20.91 L414.61,22.28 L414.83,24.98 L415.05,28.98 L415.27,34.22 L415.49,40.61 L415.7,48.06 L415.92,56.44 L416.14,65.63 L416.36,75.48 L416.58,85.85 L416.79,96.58 L417.01,107.52 L417.23,118.51 L417.45,129.4 L417.67,140.04 L417.88,150.32 L418.1,160.12 L418.32,169.33 L418.54,177.89 L418.76,185.73 L418.97,192.82 L419.19,199.14 L419.41,204.7 L419.63,209.52 L419.85,213.63 L420.06,217.08 L420.28,219.94 L420.5,222.26 L420.72,224.12 L420.94,225.58 L421.15,226.7 L421.37,227.55 L421.59,228.18 L421.81,228.64 L422.03,228.96 L422.24,229.18 L422.46,229.34 L422.68,229.44 L422.9,229.5 L423.12,229.54 L423.33,229.57 L423.55,229.58 L423.77,229.59 L423.99,229.59 M416.66,229.6 L417.04,229.6 L417.42,229.59 L417.81,229.59 L418.19,229.58 L418.57,229.57 L418.95,229.54 L419.34,229.51 L419.72,229.46 L420.1,229.38 L420.49,229.28 L420.87,229.12 L421.25,228.91 L421.63,228.62 L422.02,228.25 L422.4,227.75 L422.78,227.13 L423.16,226.35 L423.55,225.38 L423.93,224.22 L424.31,222.83 L424.69,221.21 L425.08,219.34 L425.46,217.21 L425.84,214.82 L426.23,212.18 L426.61,209.29 L426.99,206.19 L427.37,202.89 L427.76,199.43 L428.14,195.84 L428.52,192.17 L428.9,188.47 L429.29,184.79 L429.67,181.17 L430.05,177.68 L430.43,174.36 L430.82,171.26 L431.2,168.44 L431.58,165.93 L431.96,163.78 L432.35,162.01 L432.73,160.66 L433.11,159.75 L433.5,159.29 L433.88,159.29 L434.26,159.75 L434.64,160.66 L435.03,162.01 L435.41,163.78 L435.79,165.93 L436.17,168.44 L436.56,171.26 L436.94,174.36 L437.32,177.68 L437.7,181.17 L438.09,184.79 L438.47,188.47 L438.85,192.17 L439.24,195.84 L439.62,199.43 L440,202.89 L440.38,206.19 L440.77,209.29 L441.15,212.18 L441.53,214.82 L441.91,217.21 L442.3,219.34 L442.68,221.21 L443.06,222.83 L443.44,224.22 L443.83,225.38 L444.21,226.35 L444.59,227.13 L444.98,227.75 L445.36,228.25 L445.74,228.62 L446.12,228.91 L446.51,229.12 L446.89,229.28 L447.27,229.38 L447.65,229.46 L448.04,229.51 L448.42,229.54 L448.8,229.57 L449.18,229.58 L449.57,229.59 L449.95,229.59 L450.33,229.6 L450.71,229.6 M429.52,229.6 L430.03,229.6 L430.55,229.6 L431.07,229.59 L431.58,229.59 L432.1,229.58 L432.62,229.57 L433.13,229.55 L433.65,229.52 L434.16,229.47 L434.68,229.41 L435.2,229.32 L435.71,229.2 L436.23,229.03 L436.74,228.81 L437.26,228.52 L437.78,228.16 L438.29,227.7 L438.81,227.14 L439.33,226.47 L439.84,225.66 L440.36,224.71 L440.87,223.62 L441.39,222.38 L441.91,220.99 L442.42,219.45 L442.94,217.77 L443.45,215.96 L443.97,214.04 L444.49,212.02 L445,209.94 L445.52,207.8 L446.04,205.64 L446.55,203.5 L447.07,201.39 L447.58,199.35 L448.1,197.42 L448.62,195.62 L449.13,193.97 L449.65,192.51 L450.16,191.26 L450.68,190.23 L451.2,189.44 L451.71,188.91 L452.23,188.65 L452.74,188.65 L453.26,188.91 L453.78,189.44 L454.29,190.23 L454.81,191.26 L455.33,192.51 L455.84,193.97 L456.36,195.62 L456.87,197.42 L457.39,199.35 L457.91,201.39 L458.42,203.5 L458.94,205.64 L459.45,207.8 L459.97,209.94 L460.49,212.02 L461,214.04 L461.52,215.96 L462.04,217.77 L462.55,219.45 L463.07,220.99 L463.58,222.38 L464.1,223.62 L464.62,224.71 L465.13,225.66 L465.65,226.47 L466.16,227.14 L466.68,227.7 L467.2,228.16 L467.71,228.52 L468.23,228.81 L468.75,229.03 L469.26,229.2 L469.78,229.32 L470.29,229.41 L470.81,229.47 L471.33,229.52 L471.84,229.55 L472.36,229.57 L472.87,229.58 L473.39,229.59 L473.91,229.59 L474.42,229.6 L474.94,229.6 L475.45,229.6 M444.76,229.6 L445.38,229.6 L445.99,229.6 L446.6,229.6 L447.22,229.59 L447.83,229.59 L448.45,229.58 L449.06,229.56 L449.67,229.54 L450.29,229.51 L450.9,229.46 L451.52,229.4 L452.13,229.31 L452.75,229.19 L453.36,229.04 L453.97,228.83 L454.59,228.57 L455.2,228.25 L455.82,227.85 L456.43,227.36 L457.04,226.79 L457.66,226.11 L458.27,225.33 L458.89,224.45 L459.5,223.46 L460.11,222.36 L460.73,221.16 L461.34,219.87 L461.96,218.5 L462.57,217.06 L463.18,215.57 L463.8,214.04 L464.41,212.5 L465.03,210.97 L465.64,209.47 L466.25,208.02 L466.87,206.64 L467.48,205.35 L468.1,204.18 L468.71,203.14 L469.32,202.24 L469.94,201.51 L470.55,200.95 L471.17,200.57 L471.78,200.38 L472.39,200.38 L473.01,200.57 L473.62,200.95 L474.24,201.51 L474.85,202.24 L475.46,203.14 L476.08,204.18 L476.69,205.35 L477.31,206.64 L477.92,208.02 L478.53,209.47 L479.15,210.97 L479.76,212.5 L480.38,214.04 L480.99,215.57 L481.6,217.06 L482.22,218.5 L482.83,219.87 L483.45,221.16 L484.06,222.36 L484.67,223.46 L485.29,224.45 L485.9,225.33 L486.52,226.11 L487.13,226.79 L487.74,227.36 L488.36,227.85 L488.97,228.25 L489.59,228.57 L490.2,228.83 L490.81,229.04 L491.43,229.19 L492.04,229.31 L492.66,229.4 L493.27,229.46 L493.88,229.51 L494.5,229.54 L495.11,229.56 L495.73,229.58 L496.34,229.59 L496.95,229.59 L497.57,229.6 L498.18,229.6 L498.8,229.6 L499.41,229.6 M461.49,229.6 L462.17,229.6 L462.84,229.6 L463.52,229.6 L464.2,229.59 L464.87,229.59 L465.55,229.58 L466.23,229.57 L466.9,229.55 L467.58,229.53 L468.25,229.5 L468.93,229.45 L469.61,229.38 L470.28,229.29 L470.96,229.17 L471.64,229.01 L472.31,228.81 L472.99,228.56 L473.66,228.25 L474.34,227.87 L475.02,227.43 L475.69,226.91 L476.37,226.31 L477.05,225.62 L477.72,224.86 L478.4,224.01 L479.07,223.08 L479.75,222.09 L480.43,221.03 L481.1,219.92 L481.78,218.76 L482.46,217.59 L483.13,216.4 L483.81,215.22 L484.49,214.06 L485.16,212.93 L485.84,211.87 L486.51,210.88 L487.19,209.97 L487.87,209.16 L488.54,208.47 L489.22,207.91 L489.9,207.47 L490.57,207.18 L491.25,207.03 L491.92,207.03 L492.6,207.18 L493.28,207.47 L493.95,207.91 L494.63,208.47 L495.31,209.16 L495.98,209.97 L496.66,210.88 L497.34,211.87 L498.01,212.93 L498.69,214.06 L499.36,215.22 L500.04,216.4 L500.72,217.59 L501.39,218.76 L502.07,219.92 L502.75,221.03 L503.42,222.09 L504.1,223.08 L504.77,224.01 L505.45,224.86 L506.13,225.62 L506.8,226.31 L507.48,226.91 L508.16,227.43 L508.83,227.87 L509.51,228.25 L510.19,228.56 L510.86,228.81 L511.54,229.01 L512.21,229.17 L512.89,229.29 L513.57,229.38 L514.24,229.45 L514.92,229.5 L515.6,229.53 L516.27,229.55 L516.95,229.57 L517.62,229.58 L518.3,229.59 L518.98,229.59 L519.65,229.6 L520.33,229.6 L521.01,229.6 L521.68,229.6 M476.63,229.6 L477.39,229.6 L478.15,229.6 L478.91,229.6 L479.67,229.59 L480.43,229.59 L481.19,229.59 L481.95,229.58 L482.72,229.56 L483.48,229.54 L484.24,229.51 L485,229.47 L485.76,229.42 L486.52,229.34 L487.28,229.24 L488.04,229.11 L488.8,228.95 L489.56,228.74 L490.32,228.48 L491.09,228.18 L491.85,227.81 L492.61,227.38 L493.37,226.89 L494.13,226.32 L494.89,225.69 L495.65,224.99 L496.41,224.23 L497.17,223.41 L497.93,222.54 L498.69,221.62 L499.45,220.67 L500.22,219.7 L500.98,218.72 L501.74,217.75 L502.5,216.79 L503.26,215.87 L504.02,214.99 L504.78,214.17 L505.54,213.43 L506.3,212.76 L507.06,212.19 L507.82,211.73 L508.58,211.37 L509.35,211.13 L510.11,211.01 L510.87,211.01 L511.63,211.13 L512.39,211.37 L513.15,211.73 L513.91,212.19 L514.67,212.76 L515.43,213.43 L516.19,214.17 L516.95,214.99 L517.71,215.87 L518.48,216.79 L519.24,217.75 L520,218.72 L520.76,219.7 L521.52,220.67 L522.28,221.62 L523.04,222.54 L523.8,223.41 L524.56,224.23 L525.32,224.99 L526.08,225.69 L526.85,226.32 L527.61,226.89 L528.37,227.38 L529.13,227.81 L529.89,228.18 L530.65,228.48 L531.41,228.74 L532.17,228.95 L532.93,229.11 L533.69,229.24 L534.45,229.34 L535.21,229.42 L535.98,229.47 L536.74,229.51 L537.5,229.54 L538.26,229.56 L539.02,229.58 L539.78,229.59 L540.54,229.59 L541.3,229.59 L542.06,229.6 L542.82,229.6 L543.58,229.6 L544.34,229.6 M492.07,229.6 L492.93,229.6 L493.78,229.6 L494.63,229.6 L495.49,229.6 L496.34,229.59 L497.2,229.59 L498.05,229.58 L498.91,229.57 L499.76,229.55 L500.61,229.53 L501.47,229.49 L502.32,229.45 L503.18,229.38 L504.03,229.3 L504.89,229.19 L505.74,229.05 L506.59,228.88 L507.45,228.66 L508.3,228.41 L509.16,228.1 L510.01,227.74 L510.87,227.32 L511.72,226.85 L512.57,226.32 L513.43,225.73 L514.28,225.09 L515.14,224.4 L515.99,223.67 L516.85,222.9 L517.7,222.1 L518.55,221.29 L519.41,220.47 L520.26,219.65 L521.12,218.85 L521.97,218.07 L522.83,217.34 L523.68,216.65 L524.53,216.02 L525.39,215.46 L526.24,214.99 L527.1,214.59 L527.95,214.29 L528.81,214.09 L529.66,213.99 L530.51,213.99 L531.37,214.09 L532.22,214.29 L533.08,214.59 L533.93,214.99 L534.79,215.46 L535.64,216.02 L536.49,216.65 L537.35,217.34 L538.2,218.07 L539.06,218.85 L539.91,219.65 L540.77,220.47 L541.62,221.29 L542.47,222.1 L543.33,222.9 L544.18,223.67 L545.04,224.4 L545.89,225.09 L546.75,225.73 L547.6,226.32 L548.45,226.85 L549.31,227.32 L550.16,227.74 L551.02,228.1 L551.87,228.41 L552.73,228.66 L553.58,228.88 L554.43,229.05 L555.29,229.19 L556.14,229.3 L557,229.38 L557.85,229.45 L558.71,229.49 L559.56,229.53 L560.41,229.55 L561.27,229.57 L562.12,229.58 L562.98,229.59 L563.83,229.59 L564.69,229.6 L565.54,229.6 L566.39,229.6 L567.25,229.6 L568.1,229.6 M509.69,229.6 L510.59,229.6 L511.49,229.6 L512.39,229.6 L513.29,229.6 L514.18,229.59 L515.08,229.59 L515.98,229.58 L516.88,229.57 L517.78,229.56 L518.68,229.54 L519.58,229.51 L520.48,229.47 L521.38,229.41 L522.27,229.34 L523.17,229.24 L524.07,229.12 L524.97,228.96 L525.87,228.78 L526.77,228.55 L527.67,228.28 L528.57,227.96 L529.46,227.6 L530.36,227.18 L531.26,226.71 L532.16,226.2 L533.06,225.64 L533.96,225.03 L534.86,224.39 L535.76,223.71 L536.65,223.01 L537.55,222.29 L538.45,221.57 L539.35,220.85 L540.25,220.15 L541.15,219.46 L542.05,218.82 L542.95,218.21 L543.84,217.66 L544.74,217.17 L545.64,216.75 L546.54,216.4 L547.44,216.14 L548.34,215.96 L549.24,215.87 L550.14,215.87 L551.03,215.96 L551.93,216.14 L552.83,216.4 L553.73,216.75 L554.63,217.17 L555.53,217.66 L556.43,218.21 L557.33,218.82 L558.23,219.46 L559.12,220.15 L560.02,220.85 L560.92,221.57 L561.82,222.29 L562.72,223.01 L563.62,223.71 L564.52,224.39 L565.42,225.03 L566.31,225.64 L567.21,226.2 L568.11,226.71 L569.01,227.18 L569.91,227.6 L570.81,227.96 L571.71,228.28 L572.61,228.55 L573.5,228.78 L574.4,228.96 L575.3,229.12 L576.2,229.24 L577.1,229.34 L578,229.41 L578.9,229.47 L579.8,229.51 L580.69,229.54 L581.59,229.56 L582.49,229.57 L583.39,229.58 L584.29,229.59 L585.19,229.59 L586.09,229.6 L586.99,229.6 L587.89,229.6 L588.78,229.6 L589.68,229.6 M527.8,229.6 L528.73,229.6 L529.65,229.6 L530.58,229.6 L531.5,229.6 L532.43,229.59 L533.36,229.59 L534.28,229.58 L535.21,229.57 L536.13,229.56 L537.06,229.54 L537.98,229.51 L538.91,229.48 L539.83,229.42 L540.76,229.36 L541.69,229.27 L542.61,229.16 L543.54,229.02 L544.46,228.84 L545.39,228.63 L546.31,228.38 L547.24,228.09 L548.16,227.76 L549.09,227.37 L550.01,226.95 L550.94,226.47 L551.87,225.95 L552.79,225.4 L553.72,224.8 L554.64,224.18 L555.57,223.54 L556.49,222.88 L557.42,222.21 L558.34,221.55 L559.27,220.9 L560.19,220.28 L561.12,219.68 L562.05,219.12 L562.97,218.62 L563.9,218.17 L564.82,217.78 L565.75,217.46 L566.67,217.22 L567.6,217.06 L568.52,216.97 L569.45,216.97 L570.38,217.06 L571.3,217.22 L572.23,217.46 L573.15,217.78 L574.08,218.17 L575,218.62 L575.93,219.12 L576.85,219.68 L577.78,220.28 L578.7,220.9 L579.63,221.55 L580.56,222.21 L581.48,222.88 L582.41,223.54 L583.33,224.18 L584.26,224.8 L585.18,225.4 L586.11,225.95 L587.03,226.47 L587.96,226.95 L588.88,227.37 L589.81,227.76 L590.74,228.09 L591.66,228.38 L592.59,228.63 L593.51,228.84 L594.44,229.02 L595.36,229.16 L596.29,229.27 L597.21,229.36 L598.14,229.42 L599.07,229.48 L599.99,229.51 L600.92,229.54 L601.84,229.56 L602.77,229.57 L603.69,229.58 L604.62,229.59 L605.54,229.59 L606.47,229.6 L607.39,229.6 L608.32,229.6 L609.25,229.6 L610.17,229.6 M543.47,229.6 L544.48,229.6 L545.48,229.6 L546.49,229.6 L547.49,229.6 L548.5,229.59 L549.5,229.59 L550.51,229.59 L551.51,229.58 L552.52,229.57 L553.52,229.55 L554.53,229.53 L555.53,229.49 L556.54,229.45 L557.54,229.39 L558.55,229.32 L559.55,229.22 L560.56,229.1 L561.56,228.95 L562.57,228.78 L563.57,228.56 L564.57,228.31 L565.58,228.03 L566.58,227.7 L567.59,227.33 L568.59,226.93 L569.6,226.49 L570.6,226.01 L571.61,225.51 L572.61,224.97 L573.62,224.43 L574.62,223.86 L575.63,223.3 L576.63,222.73 L577.64,222.18 L578.64,221.64 L579.65,221.13 L580.65,220.66 L581.66,220.22 L582.66,219.84 L583.67,219.51 L584.67,219.24 L585.67,219.03 L586.68,218.89 L587.68,218.82 L588.69,218.82 L589.69,218.89 L590.7,219.03 L591.7,219.24 L592.71,219.51 L593.71,219.84 L594.72,220.22 L595.72,220.66 L596.73,221.13 L597.73,221.64 L598.74,222.18 L599.74,222.73 L600.75,223.3 L601.75,223.86 L602.76,224.43 L603.76,224.97 L604.77,225.51 L605.77,226.01 L606.77,226.49 L607.78,226.93 L608.78,227.33 L609.79,227.7 L610.79,228.03 L611.8,228.31 L612.8,228.56 L613.81,228.78 L614.81,228.95 L615.82,229.1 L616.82,229.22 L617.83,229.32 L618.83,229.39 L619.84,229.45 L620.84,229.49 L621.85,229.53 L622.85,229.55 L623.86,229.57 L624.86,229.58 L625.87,229.59 L626.87,229.59 L627.87,229.59 L628.88,229.6 L629.88,229.6 L630.89,229.6 L631.89,229.6 L632.9,229.6 M559.33,229.6 L560.43,229.6 L561.53,229.6 L562.63,229.6 L563.73,229.6 L564.82,229.6 L565.92,229.59 L567.02,229.59 L568.12,229.58 L569.21,229.57 L570.31,229.56 L571.41,229.53 L572.51,229.51 L573.61,229.47 L574.7,229.42 L575.8,229.35 L576.9,229.26 L578,229.16 L579.1,229.03 L580.19,228.87 L581.29,228.68 L582.39,228.46 L583.49,228.2 L584.58,227.92 L585.68,227.59 L586.78,227.23 L587.88,226.84 L588.98,226.42 L590.07,225.97 L591.17,225.5 L592.27,225.01 L593.37,224.51 L594.46,224.01 L595.56,223.51 L596.66,223.02 L597.76,222.54 L598.86,222.09 L599.95,221.67 L601.05,221.28 L602.15,220.94 L603.25,220.65 L604.34,220.41 L605.44,220.23 L606.54,220.1 L607.64,220.04 L608.74,220.04 L609.83,220.1 L610.93,220.23 L612.03,220.41 L613.13,220.65 L614.22,220.94 L615.32,221.28 L616.42,221.67 L617.52,222.09 L618.62,222.54 L619.71,223.02 L620.81,223.51 L621.91,224.01 L623.01,224.51 L624.1,225.01 L625.2,225.5 L626.3,225.97 L627.4,226.42 L628.5,226.84 L629.59,227.23 L630.69,227.59 L631.79,227.92 L632.89,228.2 L633.99,228.46 L635.08,228.68 L636.18,228.87 L637.28,229.03 L638.38,229.16 L639.47,229.26 L640.57,229.35 L641.67,229.42 L642.77,229.47 L643.87,229.51 L644.96,229.53 L646.06,229.56 L647.16,229.57 L648.26,229.58 L649.35,229.59 L650.45,229.59 L651.55,229.6 L652.65,229.6 L653.75,229.6 L654.84,229.6 L655.94,229.6 L657.04,229.6 M577.67,229.6 L578.8,229.6 L579.93,229.6 L581.05,229.6 L582.18,229.6 L583.31,229.6 L584.43,229.59 L585.56,229.59 L586.68,229.58 L587.81,229.57 L588.94,229.56 L590.06,229.54 L591.19,229.51 L592.31,229.48 L593.44,229.43 L594.57,229.37 L595.69,229.29 L596.82,229.19 L597.94,229.07 L599.07,228.92 L600.2,228.74 L601.32,228.54 L602.45,228.3 L603.58,228.03 L604.7,227.73 L605.83,227.39 L606.95,227.03 L608.08,226.64 L609.21,226.22 L610.33,225.78 L611.46,225.33 L612.58,224.86 L613.71,224.39 L614.84,223.93 L615.96,223.47 L617.09,223.03 L618.21,222.6 L619.34,222.21 L620.47,221.86 L621.59,221.54 L622.72,221.26 L623.85,221.04 L624.97,220.87 L626.1,220.76 L627.22,220.7 L628.35,220.7 L629.48,220.76 L630.6,220.87 L631.73,221.04 L632.85,221.26 L633.98,221.54 L635.11,221.86 L636.23,222.21 L637.36,222.6 L638.48,223.03 L639.61,223.47 L640.74,223.93 L641.86,224.39 L642.99,224.86 L644.12,225.33 L645.24,225.78 L646.37,226.22 L647.49,226.64 L648.62,227.03 L649.75,227.39 L650.87,227.73 L652,228.03 L653.12,228.3 L654.25,228.54 L655.38,228.74 L656.5,228.92 L657.63,229.07 L658.75,229.19 L659.88,229.29 L661.01,229.37 L662.13,229.43 L663.26,229.48 L664.39,229.51 L665.51,229.54 L666.64,229.56 L667.76,229.57 L668.89,229.58 L670.02,229.59 L671.14,229.59 L672.27,229.6 L673.39,229.6 L674.52,229.6 L675.65,229.6 L676.77,229.6 L677.9,229.6 M594.35,229.6 L595.36,229.6 L596.37,229.6 L597.38,229.6 L598.39,229.6 L599.41,229.6 L600.42,229.6 L601.43,229.59 L602.44,229.59 L603.45,229.58 L604.46,229.58 L605.48,229.57 L606.49,229.56 L607.5,229.54 L608.51,229.52 L609.52,229.49 L610.54,229.45 L611.55,229.4 L612.56,229.34 L613.57,229.27 L614.58,229.19 L615.59,229.08 L616.61,228.96 L617.62,228.82 L618.63,228.66 L619.64,228.48 L620.65,228.27 L621.67,228.04 L622.68,227.79 L623.69,227.52 L624.7,227.22 L625.71,226.91 L626.73,226.58 L627.74,226.23 L628.75,225.87 L629.76,225.49 L630.77,225.12 L631.78,224.74 L632.8,224.36 L633.81,223.98 L634.82,223.62 L635.83,223.27 L636.84,222.93 L637.86,222.62 L638.87,222.33 L639.88,222.06 L640.89,221.83 L641.9,221.64 L642.91,221.47 L643.93,221.35 L644.94,221.27 L645.95,221.22 L646.96,221.22 L647.97,221.26 L648.99,221.33 L650,221.45 L651.01,221.6 L652.02,221.8 L653.03,222.02 L654.04,222.28 L655.06,222.56 L656.07,222.87 L657.08,223.2 L658.09,223.55 L659.1,223.92 L660.12,224.29 L661.13,224.67 L662.14,225.05 L663.15,225.43 L664.16,225.8 L665.18,226.16 L666.19,226.51 L667.2,226.85 L668.21,227.17 L669.22,227.47 L670.23,227.75 L671.25,228 L672.26,228.23 L673.27,228.44 L674.28,228.63 L675.29,228.79 L676.31,228.94 L677.32,229.06 L678.33,229.17 L679.34,229.26 L680.35,229.33 L681.36,229.39 L682.38,229.44 L683.39,229.48 L684.4,229.51" fill="none" stroke="#000" stroke-width="1.05" stroke-dasharray="3.5 1.8 1 1.8"/>
<path d="M405.28,229.59 L405.48,229.59 L405.68,229.58 L405.87,229.57 L406.07,229.54 L406.27,229.5 L406.47,229.43 L406.67,229.33 L406.87,229.18 L407.06,228.95 L407.26,228.63 L407.46,228.17 L407.66,227.54 L407.86,226.68 L408.05,225.55 L408.25,224.08 L408.45,222.21 L408.65,219.87 L408.85,216.99 L409.05,213.51 L409.24,209.37 L409.44,204.52 L409.64,198.92 L409.84,192.56 L410.04,185.42 L410.24,177.52 L410.43,168.91 L410.63,159.63 L410.83,149.76 L411.03,139.41 L411.23,128.69 L411.42,117.73 L411.62,106.66 L411.82,95.65 L412.02,84.84 L412.22,74.4 L412.42,64.47 L412.61,55.22 L412.81,46.78 L413.01,39.28 L413.21,32.85 L413.41,27.57 L413.6,23.54 L413.8,20.82 L414,19.45 L414.2,19.45 L414.4,20.82 L414.6,23.54 L414.79,27.57 L414.99,32.85 L415.19,39.28 L415.39,46.78 L415.59,55.22 L415.78,64.47 L415.98,74.4 L416.18,84.84 L416.38,95.65 L416.58,106.66 L416.78,117.73 L416.97,128.69 L417.17,139.41 L417.37,149.76 L417.57,159.63 L417.77,168.91 L417.96,177.52 L418.16,185.42 L418.36,192.56 L418.56,198.92 L418.76,204.52 L418.96,209.37 L419.15,213.51 L419.35,216.99 L419.55,219.87 L419.75,222.21 L419.95,224.08 L420.15,225.55 L420.34,226.68 L420.54,227.54 L420.74,228.17 L420.94,228.63 L421.14,228.95 L421.33,229.18 L421.53,229.33 L421.73,229.43 L421.93,229.5 L422.13,229.54 L422.33,229.57 L422.52,229.58 L422.72,229.59 L422.92,229.59 M418.7,229.6 L419.04,229.6 L419.37,229.59 L419.71,229.59 L420.04,229.58 L420.38,229.57 L420.72,229.55 L421.05,229.51 L421.39,229.46 L421.72,229.39 L422.06,229.28 L422.39,229.13 L422.73,228.92 L423.07,228.63 L423.4,228.26 L423.74,227.77 L424.07,227.15 L424.41,226.38 L424.74,225.43 L425.08,224.27 L425.42,222.9 L425.75,221.29 L426.09,219.44 L426.42,217.33 L426.76,214.97 L427.09,212.35 L427.43,209.5 L427.77,206.43 L428.1,203.16 L428.44,199.73 L428.77,196.18 L429.11,192.55 L429.44,188.88 L429.78,185.24 L430.12,181.66 L430.45,178.2 L430.79,174.91 L431.12,171.85 L431.46,169.05 L431.79,166.57 L432.13,164.44 L432.47,162.69 L432.8,161.36 L433.14,160.45 L433.47,160 L433.81,160 L434.14,160.45 L434.48,161.36 L434.82,162.69 L435.15,164.44 L435.49,166.57 L435.82,169.05 L436.16,171.85 L436.49,174.91 L436.83,178.2 L437.16,181.66 L437.5,185.24 L437.84,188.88 L438.17,192.55 L438.51,196.18 L438.84,199.73 L439.18,203.16 L439.51,206.43 L439.85,209.5 L440.19,212.35 L440.52,214.97 L440.86,217.33 L441.19,219.44 L441.53,221.29 L441.86,222.9 L442.2,224.27 L442.54,225.43 L442.87,226.38 L443.21,227.15 L443.54,227.77 L443.88,228.26 L444.21,228.63 L444.55,228.92 L444.89,229.13 L445.22,229.28 L445.56,229.39 L445.89,229.46 L446.23,229.51 L446.56,229.55 L446.9,229.57 L447.24,229.58 L447.57,229.59 L447.91,229.59 L448.24,229.6 L448.58,229.6 M432.29,229.6 L432.74,229.6 L433.2,229.6 L433.65,229.59 L434.1,229.59 L434.55,229.58 L435.01,229.57 L435.46,229.55 L435.91,229.52 L436.37,229.48 L436.82,229.41 L437.27,229.32 L437.72,229.2 L438.18,229.04 L438.63,228.82 L439.08,228.54 L439.54,228.17 L439.99,227.72 L440.44,227.17 L440.89,226.5 L441.35,225.7 L441.8,224.76 L442.25,223.68 L442.71,222.45 L443.16,221.08 L443.61,219.55 L444.06,217.89 L444.52,216.1 L444.97,214.2 L445.42,212.2 L445.87,210.13 L446.33,208.02 L446.78,205.88 L447.23,203.76 L447.69,201.67 L448.14,199.66 L448.59,197.74 L449.04,195.96 L449.5,194.33 L449.95,192.88 L450.4,191.64 L450.86,190.63 L451.31,189.85 L451.76,189.32 L452.21,189.06 L452.67,189.06 L453.12,189.32 L453.57,189.85 L454.02,190.63 L454.48,191.64 L454.93,192.88 L455.38,194.33 L455.84,195.96 L456.29,197.74 L456.74,199.66 L457.19,201.67 L457.65,203.76 L458.1,205.88 L458.55,208.02 L459.01,210.13 L459.46,212.2 L459.91,214.2 L460.36,216.1 L460.82,217.89 L461.27,219.55 L461.72,221.08 L462.18,222.45 L462.63,223.68 L463.08,224.76 L463.53,225.7 L463.99,226.5 L464.44,227.17 L464.89,227.72 L465.34,228.17 L465.8,228.54 L466.25,228.82 L466.7,229.04 L467.16,229.2 L467.61,229.32 L468.06,229.41 L468.51,229.48 L468.97,229.52 L469.42,229.55 L469.87,229.57 L470.33,229.58 L470.78,229.59 L471.23,229.59 L471.68,229.6 L472.14,229.6 L472.59,229.6 M448.07,229.6 L448.61,229.6 L449.15,229.6 L449.69,229.6 L450.22,229.59 L450.76,229.59 L451.3,229.58 L451.84,229.56 L452.38,229.54 L452.92,229.51 L453.46,229.47 L453.99,229.4 L454.53,229.32 L455.07,229.2 L455.61,229.04 L456.15,228.84 L456.69,228.58 L457.23,228.26 L457.77,227.86 L458.3,227.39 L458.84,226.82 L459.38,226.15 L459.92,225.38 L460.46,224.5 L461,223.52 L461.54,222.43 L462.07,221.24 L462.61,219.97 L463.15,218.61 L463.69,217.18 L464.23,215.71 L464.77,214.2 L465.31,212.68 L465.85,211.16 L466.38,209.67 L466.92,208.23 L467.46,206.87 L468,205.6 L468.54,204.43 L469.08,203.4 L469.62,202.52 L470.15,201.79 L470.69,201.23 L471.23,200.86 L471.77,200.67 L472.31,200.67 L472.85,200.86 L473.39,201.23 L473.93,201.79 L474.46,202.52 L475,203.4 L475.54,204.43 L476.08,205.6 L476.62,206.87 L477.16,208.23 L477.7,209.67 L478.23,211.16 L478.77,212.68 L479.31,214.2 L479.85,215.71 L480.39,217.18 L480.93,218.61 L481.47,219.97 L482.01,221.24 L482.54,222.43 L483.08,223.52 L483.62,224.5 L484.16,225.38 L484.7,226.15 L485.24,226.82 L485.78,227.39 L486.31,227.86 L486.85,228.26 L487.39,228.58 L487.93,228.84 L488.47,229.04 L489.01,229.2 L489.55,229.32 L490.09,229.4 L490.62,229.47 L491.16,229.51 L491.7,229.54 L492.24,229.56 L492.78,229.58 L493.32,229.59 L493.86,229.59 L494.39,229.6 L494.93,229.6 L495.47,229.6 L496.01,229.6 M465.14,229.6 L465.73,229.6 L466.32,229.6 L466.92,229.6 L467.51,229.59 L468.1,229.59 L468.7,229.58 L469.29,229.57 L469.88,229.56 L470.48,229.53 L471.07,229.5 L471.66,229.45 L472.26,229.38 L472.85,229.29 L473.44,229.17 L474.04,229.01 L474.63,228.81 L475.22,228.57 L475.82,228.26 L476.41,227.89 L477,227.45 L477.6,226.93 L478.19,226.34 L478.78,225.66 L479.38,224.9 L479.97,224.06 L480.56,223.15 L481.16,222.16 L481.75,221.11 L482.34,220.01 L482.94,218.87 L483.53,217.71 L484.12,216.53 L484.72,215.36 L485.31,214.21 L485.9,213.1 L486.5,212.05 L487.09,211.06 L487.68,210.17 L488.28,209.37 L488.87,208.69 L489.46,208.12 L490.06,207.7 L490.65,207.41 L491.24,207.26 L491.84,207.26 L492.43,207.41 L493.02,207.7 L493.62,208.12 L494.21,208.69 L494.8,209.37 L495.4,210.17 L495.99,211.06 L496.58,212.05 L497.18,213.1 L497.77,214.21 L498.36,215.36 L498.96,216.53 L499.55,217.71 L500.14,218.87 L500.74,220.01 L501.33,221.11 L501.92,222.16 L502.52,223.15 L503.11,224.06 L503.7,224.9 L504.3,225.66 L504.89,226.34 L505.48,226.93 L506.08,227.45 L506.67,227.89 L507.26,228.26 L507.86,228.57 L508.45,228.81 L509.04,229.01 L509.64,229.17 L510.23,229.29 L510.82,229.38 L511.42,229.45 L512.01,229.5 L512.6,229.53 L513.2,229.56 L513.79,229.57 L514.38,229.58 L514.98,229.59 L515.57,229.59 L516.16,229.6 L516.76,229.6 L517.35,229.6 L517.94,229.6 M480.74,229.6 L481.4,229.6 L482.07,229.6 L482.74,229.6 L483.41,229.59 L484.07,229.59 L484.74,229.59 L485.41,229.58 L486.08,229.56 L486.74,229.54 L487.41,229.51 L488.08,229.47 L488.75,229.42 L489.41,229.34 L490.08,229.25 L490.75,229.12 L491.42,228.95 L492.08,228.75 L492.75,228.5 L493.42,228.19 L494.09,227.83 L494.75,227.4 L495.42,226.91 L496.09,226.36 L496.76,225.73 L497.42,225.04 L498.09,224.28 L498.76,223.47 L499.43,222.61 L500.09,221.7 L500.76,220.76 L501.43,219.8 L502.1,218.83 L502.76,217.87 L503.43,216.92 L504.1,216.01 L504.77,215.14 L505.43,214.33 L506.1,213.59 L506.77,212.93 L507.44,212.37 L508.1,211.91 L508.77,211.55 L509.44,211.31 L510.11,211.19 L510.77,211.19 L511.44,211.31 L512.11,211.55 L512.78,211.91 L513.44,212.37 L514.11,212.93 L514.78,213.59 L515.45,214.33 L516.11,215.14 L516.78,216.01 L517.45,216.92 L518.12,217.87 L518.78,218.83 L519.45,219.8 L520.12,220.76 L520.79,221.7 L521.45,222.61 L522.12,223.47 L522.79,224.28 L523.46,225.04 L524.12,225.73 L524.79,226.36 L525.46,226.91 L526.13,227.4 L526.79,227.83 L527.46,228.19 L528.13,228.5 L528.8,228.75 L529.46,228.95 L530.13,229.12 L530.8,229.25 L531.47,229.34 L532.13,229.42 L532.8,229.47 L533.47,229.51 L534.14,229.54 L534.8,229.56 L535.47,229.58 L536.14,229.59 L536.81,229.59 L537.47,229.59 L538.14,229.6 L538.81,229.6 L539.48,229.6 L540.14,229.6 M496.69,229.6 L497.44,229.6 L498.19,229.6 L498.94,229.6 L499.69,229.6 L500.44,229.59 L501.19,229.59 L501.94,229.58 L502.69,229.57 L503.43,229.55 L504.18,229.53 L504.93,229.49 L505.68,229.45 L506.43,229.39 L507.18,229.3 L507.93,229.19 L508.68,229.06 L509.43,228.88 L510.18,228.67 L510.93,228.42 L511.68,228.11 L512.43,227.76 L513.18,227.34 L513.93,226.88 L514.68,226.35 L515.43,225.77 L516.18,225.14 L516.92,224.45 L517.67,223.73 L518.42,222.97 L519.17,222.18 L519.92,221.37 L520.67,220.56 L521.42,219.75 L522.17,218.96 L522.92,218.19 L523.67,217.46 L524.42,216.78 L525.17,216.16 L525.92,215.61 L526.67,215.13 L527.42,214.74 L528.17,214.45 L528.92,214.25 L529.67,214.15 L530.41,214.15 L531.16,214.25 L531.91,214.45 L532.66,214.74 L533.41,215.13 L534.16,215.61 L534.91,216.16 L535.66,216.78 L536.41,217.46 L537.16,218.19 L537.91,218.96 L538.66,219.75 L539.41,220.56 L540.16,221.37 L540.91,222.18 L541.66,222.97 L542.41,223.73 L543.16,224.45 L543.9,225.14 L544.65,225.77 L545.4,226.35 L546.15,226.88 L546.9,227.34 L547.65,227.76 L548.4,228.11 L549.15,228.42 L549.9,228.67 L550.65,228.88 L551.4,229.06 L552.15,229.19 L552.9,229.3 L553.65,229.39 L554.4,229.45 L555.15,229.49 L555.9,229.53 L556.65,229.55 L557.39,229.57 L558.14,229.58 L558.89,229.59 L559.64,229.59 L560.39,229.6 L561.14,229.6 L561.89,229.6 L562.64,229.6 L563.39,229.6 M514.55,229.6 L515.34,229.6 L516.13,229.6 L516.92,229.6 L517.71,229.6 L518.5,229.59 L519.28,229.59 L520.07,229.58 L520.86,229.57 L521.65,229.56 L522.44,229.54 L523.23,229.51 L524.01,229.47 L524.8,229.41 L525.59,229.34 L526.38,229.24 L527.17,229.12 L527.96,228.97 L528.75,228.78 L529.53,228.56 L530.32,228.29 L531.11,227.98 L531.9,227.62 L532.69,227.2 L533.48,226.74 L534.26,226.23 L535.05,225.68 L535.84,225.08 L536.63,224.44 L537.42,223.77 L538.21,223.08 L539,222.37 L539.78,221.65 L540.57,220.94 L541.36,220.24 L542.15,219.57 L542.94,218.92 L543.73,218.33 L544.51,217.78 L545.3,217.29 L546.09,216.88 L546.88,216.54 L547.67,216.28 L548.46,216.1 L549.25,216.01 L550.03,216.01 L550.82,216.1 L551.61,216.28 L552.4,216.54 L553.19,216.88 L553.98,217.29 L554.77,217.78 L555.55,218.33 L556.34,218.92 L557.13,219.57 L557.92,220.24 L558.71,220.94 L559.5,221.65 L560.28,222.37 L561.07,223.08 L561.86,223.77 L562.65,224.44 L563.44,225.08 L564.23,225.68 L565.02,226.23 L565.8,226.74 L566.59,227.2 L567.38,227.62 L568.17,227.98 L568.96,228.29 L569.75,228.56 L570.53,228.78 L571.32,228.97 L572.11,229.12 L572.9,229.24 L573.69,229.34 L574.48,229.41 L575.27,229.47 L576.05,229.51 L576.84,229.54 L577.63,229.56 L578.42,229.57 L579.21,229.58 L580,229.59 L580.79,229.59 L581.57,229.6 L582.36,229.6 L583.15,229.6 L583.94,229.6 L584.73,229.6 M532.81,229.6 L533.62,229.6 L534.43,229.6 L535.25,229.6 L536.06,229.6 L536.87,229.59 L537.68,229.59 L538.49,229.58 L539.31,229.58 L540.12,229.56 L540.93,229.54 L541.74,229.51 L542.55,229.48 L543.37,229.43 L544.18,229.36 L544.99,229.27 L545.8,229.16 L546.61,229.02 L547.42,228.85 L548.24,228.64 L549.05,228.4 L549.86,228.11 L550.67,227.78 L551.48,227.4 L552.3,226.97 L553.11,226.5 L553.92,225.99 L554.73,225.44 L555.54,224.85 L556.36,224.24 L557.17,223.6 L557.98,222.95 L558.79,222.29 L559.6,221.63 L560.42,220.99 L561.23,220.37 L562.04,219.78 L562.85,219.23 L563.66,218.73 L564.47,218.28 L565.29,217.9 L566.1,217.58 L566.91,217.34 L567.72,217.18 L568.53,217.1 L569.35,217.1 L570.16,217.18 L570.97,217.34 L571.78,217.58 L572.59,217.9 L573.41,218.28 L574.22,218.73 L575.03,219.23 L575.84,219.78 L576.65,220.37 L577.47,220.99 L578.28,221.63 L579.09,222.29 L579.9,222.95 L580.71,223.6 L581.52,224.24 L582.34,224.85 L583.15,225.44 L583.96,225.99 L584.77,226.5 L585.58,226.97 L586.4,227.4 L587.21,227.78 L588.02,228.11 L588.83,228.4 L589.64,228.64 L590.46,228.85 L591.27,229.02 L592.08,229.16 L592.89,229.27 L593.7,229.36 L594.51,229.43 L595.33,229.48 L596.14,229.51 L596.95,229.54 L597.76,229.56 L598.57,229.58 L599.39,229.58 L600.2,229.59 L601.01,229.59 L601.82,229.6 L602.63,229.6 L603.45,229.6 L604.26,229.6 L605.07,229.6 M550.62,229.6 L551.46,229.6 L552.31,229.6 L553.15,229.6 L553.99,229.6 L554.84,229.59 L555.68,229.59 L556.52,229.59 L557.37,229.58 L558.21,229.56 L559.05,229.55 L559.9,229.52 L560.74,229.49 L561.58,229.44 L562.42,229.38 L563.27,229.3 L564.11,229.19 L564.95,229.07 L565.8,228.91 L566.64,228.72 L567.48,228.49 L568.33,228.22 L569.17,227.92 L570.01,227.57 L570.86,227.17 L571.7,226.74 L572.54,226.27 L573.39,225.76 L574.23,225.22 L575.07,224.65 L575.91,224.06 L576.76,223.46 L577.6,222.85 L578.44,222.25 L579.29,221.65 L580.13,221.08 L580.97,220.53 L581.82,220.03 L582.66,219.56 L583.5,219.15 L584.35,218.8 L585.19,218.51 L586.03,218.29 L586.88,218.14 L587.72,218.06 L588.56,218.06 L589.4,218.14 L590.25,218.29 L591.09,218.51 L591.93,218.8 L592.78,219.15 L593.62,219.56 L594.46,220.03 L595.31,220.53 L596.15,221.08 L596.99,221.65 L597.84,222.25 L598.68,222.85 L599.52,223.46 L600.37,224.06 L601.21,224.65 L602.05,225.22 L602.89,225.76 L603.74,226.27 L604.58,226.74 L605.42,227.17 L606.27,227.57 L607.11,227.92 L607.95,228.22 L608.8,228.49 L609.64,228.72 L610.48,228.91 L611.33,229.07 L612.17,229.19 L613.01,229.3 L613.86,229.38 L614.7,229.44 L615.54,229.49 L616.38,229.52 L617.23,229.55 L618.07,229.56 L618.91,229.58 L619.76,229.59 L620.6,229.59 L621.44,229.59 L622.29,229.6 L623.13,229.6 L623.97,229.6 L624.82,229.6 L625.66,229.6 M568.19,229.6 L569.09,229.6 L569.98,229.6 L570.88,229.6 L571.78,229.6 L572.68,229.59 L573.58,229.59 L574.47,229.59 L575.37,229.58 L576.27,229.57 L577.17,229.55 L578.06,229.52 L578.96,229.49 L579.86,229.44 L580.76,229.38 L581.66,229.31 L582.55,229.21 L583.45,229.08 L584.35,228.93 L585.25,228.75 L586.14,228.53 L587.04,228.27 L587.94,227.97 L588.84,227.63 L589.74,227.25 L590.63,226.83 L591.53,226.37 L592.43,225.88 L593.33,225.36 L594.22,224.81 L595.12,224.24 L596.02,223.65 L596.92,223.07 L597.82,222.48 L598.71,221.91 L599.61,221.35 L600.51,220.82 L601.41,220.33 L602.3,219.88 L603.2,219.48 L604.1,219.14 L605,218.86 L605.9,218.65 L606.79,218.5 L607.69,218.43 L608.59,218.43 L609.49,218.5 L610.38,218.65 L611.28,218.86 L612.18,219.14 L613.08,219.48 L613.98,219.88 L614.87,220.33 L615.77,220.82 L616.67,221.35 L617.57,221.91 L618.46,222.48 L619.36,223.07 L620.26,223.65 L621.16,224.24 L622.06,224.81 L622.95,225.36 L623.85,225.88 L624.75,226.37 L625.65,226.83 L626.54,227.25 L627.44,227.63 L628.34,227.97 L629.24,228.27 L630.14,228.53 L631.03,228.75 L631.93,228.93 L632.83,229.08 L633.73,229.21 L634.62,229.31 L635.52,229.38 L636.42,229.44 L637.32,229.49 L638.22,229.52 L639.11,229.55 L640.01,229.57 L640.91,229.58 L641.81,229.59 L642.7,229.59 L643.6,229.59 L644.5,229.6 L645.4,229.6 L646.3,229.6 L647.19,229.6 L648.09,229.6 M586.05,229.6 L586.99,229.6 L587.93,229.6 L588.86,229.6 L589.8,229.6 L590.74,229.59 L591.67,229.59 L592.61,229.59 L593.55,229.58 L594.48,229.57 L595.42,229.55 L596.36,229.52 L597.29,229.49 L598.23,229.45 L599.17,229.39 L600.1,229.31 L601.04,229.21 L601.98,229.09 L602.91,228.94 L603.85,228.75 L604.79,228.54 L605.73,228.28 L606.66,227.99 L607.6,227.65 L608.54,227.28 L609.47,226.86 L610.41,226.41 L611.35,225.92 L612.28,225.41 L613.22,224.86 L614.16,224.3 L615.09,223.72 L616.03,223.14 L616.97,222.56 L617.9,222 L618.84,221.45 L619.78,220.93 L620.71,220.44 L621.65,220 L622.59,219.6 L623.52,219.26 L624.46,218.99 L625.4,218.77 L626.33,218.63 L627.27,218.56 L628.21,218.56 L629.15,218.63 L630.08,218.77 L631.02,218.99 L631.96,219.26 L632.89,219.6 L633.83,220 L634.77,220.44 L635.7,220.93 L636.64,221.45 L637.58,222 L638.51,222.56 L639.45,223.14 L640.39,223.72 L641.32,224.3 L642.26,224.86 L643.2,225.41 L644.13,225.92 L645.07,226.41 L646.01,226.86 L646.94,227.28 L647.88,227.65 L648.82,227.99 L649.76,228.28 L650.69,228.54 L651.63,228.75 L652.57,228.94 L653.5,229.09 L654.44,229.21 L655.38,229.31 L656.31,229.39 L657.25,229.45 L658.19,229.49 L659.12,229.52 L660.06,229.55 L661,229.57 L661.93,229.58 L662.87,229.59 L663.81,229.59 L664.74,229.59 L665.68,229.6 L666.62,229.6 L667.55,229.6 L668.49,229.6 L669.43,229.6 M603.22,229.6 L604.13,229.6 L605.04,229.6 L605.96,229.6 L606.87,229.6 L607.78,229.6 L608.69,229.59 L609.61,229.59 L610.52,229.58 L611.43,229.58 L612.34,229.56 L613.25,229.55 L614.17,229.52 L615.08,229.49 L615.99,229.45 L616.9,229.4 L617.81,229.33 L618.73,229.25 L619.64,229.14 L620.55,229.02 L621.46,228.87 L622.38,228.69 L623.29,228.48 L624.2,228.23 L625.11,227.96 L626.02,227.65 L626.94,227.3 L627.85,226.92 L628.76,226.51 L629.67,226.07 L630.58,225.6 L631.5,225.11 L632.41,224.6 L633.32,224.07 L634.23,223.54 L635.14,223 L636.06,222.47 L636.97,221.95 L637.88,221.44 L638.79,220.96 L639.71,220.5 L640.62,220.08 L641.53,219.7 L642.44,219.37 L643.35,219.09 L644.27,218.86 L645.18,218.69 L646.09,218.57 L647,218.52 L647.91,218.53 L648.83,218.6 L649.74,218.72 L650.65,218.91 L651.56,219.16 L652.48,219.45 L653.39,219.8 L654.3,220.19 L655.21,220.62 L656.12,221.08 L657.04,221.57 L657.95,222.08 L658.86,222.61 L659.77,223.14 L660.68,223.68 L661.6,224.21 L662.51,224.73 L663.42,225.24 L664.33,225.73 L665.25,226.19 L666.16,226.62 L667.07,227.03 L667.98,227.4 L668.89,227.73 L669.81,228.03 L670.72,228.3 L671.63,228.53 L672.54,228.74 L673.45,228.91 L674.37,229.05 L675.28,229.17 L676.19,229.27 L677.1,229.35 L678.02,229.41 L678.93,229.46 L679.84,229.5 L680.75,229.53 L681.66,229.55 L682.58,229.57 L683.49,229.58 L684.4,229.59" fill="none" stroke="#ff0000" stroke-width="1.4" stroke-dasharray="4.6 2.8"/>
<path d="M404.2,229.85 H684.4" stroke="#ff0000" stroke-width="1.8"/>
<path d="M410.6,229.85 H492" stroke="#3a3aff" stroke-width="1.6" stroke-dasharray="2.4 7.6"/>
<text x="404.2" y="246" font-size="13" class="t" text-anchor="middle" fill="#161616">0</text>
<text x="450.9" y="246" font-size="13" class="t" text-anchor="middle" fill="#161616">5</text>
<text x="497.6" y="246" font-size="13" class="t" text-anchor="middle" fill="#161616">10</text>
<text x="544.3" y="246" font-size="13" class="t" text-anchor="middle" fill="#161616">15</text>
<text x="591" y="246" font-size="13" class="t" text-anchor="middle" fill="#161616">20</text>
<text x="637.7" y="246" font-size="13" class="t" text-anchor="middle" fill="#161616">25</text>
<text x="684.4" y="246" font-size="13" class="t" text-anchor="middle" fill="#161616">30</text>
<text x="400" y="234.2" font-size="13" class="t" text-anchor="end" fill="#161616">0</text>
<text x="400" y="196.68" font-size="13" class="t" text-anchor="end" fill="#161616">2</text>
<text x="400" y="159.17" font-size="13" class="t" text-anchor="end" fill="#161616">4</text>
<text x="400" y="121.65" font-size="13" class="t" text-anchor="end" fill="#161616">6</text>
<text x="400" y="84.13" font-size="13" class="t" text-anchor="end" fill="#161616">8</text>
<text x="400" y="46.62" font-size="13" class="t" text-anchor="end" fill="#161616">10</text>
<text x="400" y="9.1" font-size="13" class="t" text-anchor="end" fill="#161616">12</text>
<defs><clipPath id="c1"><rect x="465.3" y="25.4" width="82.5" height="54.9"/></clipPath><clipPath id="c2"><rect x="591.8" y="25.4" width="81.7" height="54.9"/></clipPath></defs>
<rect x="465.3" y="25.4" width="82.5" height="54.9" fill="#fff"/>
<path d="M465.3,113.14 L465.71,111.67 L466.13,110.2 L466.54,108.72 L466.96,107.25 L467.37,105.78 L467.79,104.31 L468.2,102.85 L468.62,101.38 L469.03,99.92 L469.45,98.46 L469.86,97.01 L470.27,95.56 L470.69,94.11 L471.1,92.67 L471.52,91.23 L471.93,89.8 L472.35,88.38 L472.76,86.96 L473.18,85.55 L473.59,84.15 L474.01,82.75 L474.42,81.36 L474.84,79.98 L475.25,78.61 L475.66,77.25 L476.08,75.9 L476.49,74.56 L476.91,73.23 L477.32,71.91 L477.74,70.6 L478.15,69.31 L478.57,68.03 L478.98,66.75 L479.4,65.5 L479.81,64.25 L480.22,63.02 L480.64,61.8 L481.05,60.6 L481.47,59.41 L481.88,58.24 L482.3,57.08 L482.71,55.94 L483.13,54.81 L483.54,53.7 L483.96,52.61 L484.37,51.54 L484.78,50.48 L485.2,49.44 L485.61,48.42 L486.03,47.42 L486.44,46.43 L486.86,45.47 L487.27,44.52 L487.69,43.59 L488.1,42.69 L488.52,41.8 L488.93,40.94 L489.35,40.09 L489.76,39.27 L490.17,38.47 L490.59,37.69 L491,36.93 L491.42,36.19 L491.83,35.48 L492.25,34.78 L492.66,34.11 L493.08,33.47 L493.49,32.84 L493.91,32.24 L494.32,31.67 L494.73,31.11 L495.15,30.58 L495.56,30.08 L495.98,29.6 L496.39,29.14 L496.81,28.71 L497.22,28.3 L497.64,27.92 L498.05,27.56 L498.47,27.23 L498.88,26.92 L499.29,26.63 L499.71,26.38 L500.12,26.14 L500.54,25.93 L500.95,25.75 L501.37,25.6 L501.78,25.46 L502.2,25.36 L502.61,25.28 L503.03,25.22 L503.44,25.2 L503.86,25.19 L504.27,25.21 L504.68,25.26 L505.1,25.34 L505.51,25.44 L505.93,25.56 L506.34,25.71 L506.76,25.89 L507.17,26.09 L507.59,26.31 L508,26.57 L508.42,26.84 L508.83,27.15 L509.24,27.47 L509.66,27.83 L510.07,28.2 L510.49,28.6 L510.9,29.03 L511.32,29.48 L511.73,29.96 L512.15,30.46 L512.56,30.98 L512.98,31.53 L513.39,32.1 L513.81,32.69 L514.22,33.31 L514.63,33.95 L515.05,34.61 L515.46,35.3 L515.88,36.01 L516.29,36.74 L516.71,37.49 L517.12,38.27 L517.54,39.07 L517.95,39.88 L518.37,40.72 L518.78,41.58 L519.19,42.46 L519.61,43.36 L520.02,44.29 L520.44,45.23 L520.85,46.19 L521.27,47.17 L521.68,48.16 L522.1,49.18 L522.51,50.22 L522.93,51.27 L523.34,52.34 L523.75,53.43 L524.17,54.53 L524.58,55.65 L525,56.79 L525.41,57.95 L525.83,59.11 L526.24,60.3 L526.66,61.5 L527.07,62.71 L527.49,63.94 L527.9,65.18 L528.32,66.44 L528.73,67.7 L529.14,68.99 L529.56,70.28 L529.97,71.58 L530.39,72.9 L530.8,74.23 L531.22,75.57 L531.63,76.91 L532.05,78.27 L532.46,79.64 L532.88,81.02 L533.29,82.4 L533.7,83.79 L534.12,85.2 L534.53,86.61 L534.95,88.02 L535.36,89.44 L535.78,90.87 L536.19,92.31 L536.61,93.75 L537.02,95.19 L537.44,96.64 L537.85,98.1 L538.26,99.55 L538.68,101.01 L539.09,102.48 L539.51,103.94 L539.92,105.41 L540.34,106.88 L540.75,108.35 L541.17,109.83 L541.58,111.3 L542,112.77 L542.41,114.24 L542.83,115.72 L543.24,117.19 L543.65,118.66 L544.07,120.12 L544.48,121.59 L544.9,123.05 L545.31,124.51 L545.73,125.97 L546.14,127.42 L546.56,128.87 L546.97,130.31 L547.39,131.75 L547.8,133.19" fill="none" stroke="#3535ff" stroke-width="1.05" clip-path="url(#c1)"/>
<path d="M465.3,118.87 L465.71,117.4 L466.13,115.93 L466.54,114.45 L466.96,112.98 L467.37,111.5 L467.79,110.02 L468.2,108.55 L468.62,107.08 L469.03,105.61 L469.45,104.14 L469.86,102.67 L470.27,101.21 L470.69,99.74 L471.1,98.29 L471.52,96.83 L471.93,95.38 L472.35,93.94 L472.76,92.5 L473.18,91.07 L473.59,89.64 L474.01,88.22 L474.42,86.81 L474.84,85.4 L475.25,84.01 L475.66,82.62 L476.08,81.24 L476.49,79.86 L476.91,78.5 L477.32,77.15 L477.74,75.81 L478.15,74.48 L478.57,73.16 L478.98,71.85 L479.4,70.55 L479.81,69.27 L480.22,68 L480.64,66.74 L481.05,65.5 L481.47,64.27 L481.88,63.05 L482.3,61.85 L482.71,60.66 L483.13,59.49 L483.54,58.33 L483.96,57.2 L484.37,56.07 L484.78,54.97 L485.2,53.88 L485.61,52.81 L486.03,51.75 L486.44,50.72 L486.86,49.7 L487.27,48.7 L487.69,47.72 L488.1,46.77 L488.52,45.83 L488.93,44.91 L489.35,44.01 L489.76,43.13 L490.17,42.27 L490.59,41.43 L491,40.62 L491.42,39.83 L491.83,39.06 L492.25,38.31 L492.66,37.58 L493.08,36.87 L493.49,36.19 L493.91,35.54 L494.32,34.9 L494.73,34.29 L495.15,33.7 L495.56,33.14 L495.98,32.6 L496.39,32.08 L496.81,31.59 L497.22,31.12 L497.64,30.68 L498.05,30.26 L498.47,29.87 L498.88,29.5 L499.29,29.16 L499.71,28.85 L500.12,28.55 L500.54,28.29 L500.95,28.05 L501.37,27.83 L501.78,27.64 L502.2,27.48 L502.61,27.34 L503.03,27.23 L503.44,27.15 L503.86,27.09 L504.27,27.05 L504.68,27.05 L505.1,27.06 L505.51,27.11 L505.93,27.18 L506.34,27.27 L506.76,27.4 L507.17,27.54 L507.59,27.72 L508,27.92 L508.42,28.14 L508.83,28.39 L509.24,28.67 L509.66,28.97 L510.07,29.3 L510.49,29.65 L510.9,30.03 L511.32,30.43 L511.73,30.86 L512.15,31.31 L512.56,31.79 L512.98,32.29 L513.39,32.81 L513.81,33.36 L514.22,33.94 L514.63,34.53 L515.05,35.16 L515.46,35.8 L515.88,36.47 L516.29,37.16 L516.71,37.87 L517.12,38.61 L517.54,39.37 L517.95,40.15 L518.37,40.95 L518.78,41.77 L519.19,42.62 L519.61,43.48 L520.02,44.37 L520.44,45.28 L520.85,46.21 L521.27,47.15 L521.68,48.12 L522.1,49.11 L522.51,50.11 L522.93,51.14 L523.34,52.18 L523.75,53.24 L524.17,54.32 L524.58,55.41 L525,56.53 L525.41,57.66 L525.83,58.8 L526.24,59.96 L526.66,61.14 L527.07,62.33 L527.49,63.54 L527.9,64.76 L528.32,66 L528.73,67.25 L529.14,68.51 L529.56,69.79 L529.97,71.08 L530.39,72.38 L530.8,73.69 L531.22,75.02 L531.63,76.35 L532.05,77.7 L532.46,79.06 L532.88,80.42 L533.29,81.8 L533.7,83.18 L534.12,84.57 L534.53,85.98 L534.95,87.38 L535.36,88.8 L535.78,90.22 L536.19,91.65 L536.61,93.09 L537.02,94.53 L537.44,95.97 L537.85,97.42 L538.26,98.88 L538.68,100.34 L539.09,101.8 L539.51,103.27 L539.92,104.73 L540.34,106.21 L540.75,107.68 L541.17,109.15 L541.58,110.63 L542,112.1 L542.41,113.58 L542.83,115.05 L543.24,116.53 L543.65,118 L544.07,119.47 L544.48,120.94 L544.9,122.41 L545.31,123.87 L545.73,125.34 L546.14,126.8 L546.56,128.25 L546.97,129.7 L547.39,131.15 L547.8,132.59" fill="none" stroke="#ff0000" stroke-width="1.3" stroke-dasharray="6 3" clip-path="url(#c1)"/>
<path d="M465.3,99.94 L465.71,98.71 L466.13,97.47 L466.54,96.24 L466.96,95.01 L467.37,93.79 L467.79,92.57 L468.2,91.35 L468.62,90.14 L469.03,88.93 L469.45,87.73 L469.86,86.53 L470.27,85.34 L470.69,84.15 L471.1,82.97 L471.52,81.8 L471.93,80.63 L472.35,79.47 L472.76,78.31 L473.18,77.16 L473.59,76.02 L474.01,74.89 L474.42,73.77 L474.84,72.65 L475.25,71.54 L475.66,70.44 L476.08,69.35 L476.49,68.27 L476.91,67.2 L477.32,66.14 L477.74,65.09 L478.15,64.04 L478.57,63.01 L478.98,61.99 L479.4,60.98 L479.81,59.98 L480.22,58.99 L480.64,58.01 L481.05,57.05 L481.47,56.1 L481.88,55.15 L482.3,54.22 L482.71,53.31 L483.13,52.4 L483.54,51.51 L483.96,50.64 L484.37,49.77 L484.78,48.92 L485.2,48.08 L485.61,47.26 L486.03,46.45 L486.44,45.65 L486.86,44.87 L487.27,44.11 L487.69,43.35 L488.1,42.62 L488.52,41.9 L488.93,41.19 L489.35,40.5 L489.76,39.82 L490.17,39.17 L490.59,38.52 L491,37.89 L491.42,37.28 L491.83,36.69 L492.25,36.11 L492.66,35.55 L493.08,35 L493.49,34.47 L493.91,33.96 L494.32,33.47 L494.73,32.99 L495.15,32.53 L495.56,32.09 L495.98,31.66 L496.39,31.26 L496.81,30.87 L497.22,30.49 L497.64,30.14 L498.05,29.8 L498.47,29.49 L498.88,29.19 L499.29,28.9 L499.71,28.64 L500.12,28.39 L500.54,28.17 L500.95,27.96 L501.37,27.77 L501.78,27.6 L502.2,27.44 L502.61,27.31 L503.03,27.19 L503.44,27.09 L503.86,27.02 L504.27,26.96 L504.68,26.91 L505.1,26.89 L505.51,26.89 L505.93,26.9 L506.34,26.93 L506.76,26.99 L507.17,27.06 L507.59,27.15 L508,27.25 L508.42,27.38 L508.83,27.52 L509.24,27.69 L509.66,27.87 L510.07,28.07 L510.49,28.29 L510.9,28.53 L511.32,28.78 L511.73,29.06 L512.15,29.35 L512.56,29.66 L512.98,29.99 L513.39,30.33 L513.81,30.7 L514.22,31.08 L514.63,31.48 L515.05,31.89 L515.46,32.33 L515.88,32.78 L516.29,33.25 L516.71,33.74 L517.12,34.24 L517.54,34.76 L517.95,35.3 L518.37,35.85 L518.78,36.42 L519.19,37.01 L519.61,37.62 L520.02,38.24 L520.44,38.87 L520.85,39.52 L521.27,40.19 L521.68,40.88 L522.1,41.58 L522.51,42.29 L522.93,43.02 L523.34,43.76 L523.75,44.52 L524.17,45.3 L524.58,46.09 L525,46.89 L525.41,47.71 L525.83,48.54 L526.24,49.38 L526.66,50.24 L527.07,51.11 L527.49,52 L527.9,52.9 L528.32,53.81 L528.73,54.73 L529.14,55.67 L529.56,56.62 L529.97,57.58 L530.39,58.55 L530.8,59.53 L531.22,60.53 L531.63,61.53 L532.05,62.55 L532.46,63.58 L532.88,64.61 L533.29,65.66 L533.7,66.72 L534.12,67.79 L534.53,68.86 L534.95,69.95 L535.36,71.05 L535.78,72.15 L536.19,73.26 L536.61,74.38 L537.02,75.51 L537.44,76.65 L537.85,77.79 L538.26,78.94 L538.68,80.1 L539.09,81.27 L539.51,82.44 L539.92,83.62 L540.34,84.8 L540.75,85.99 L541.17,87.18 L541.58,88.39 L542,89.59 L542.41,90.8 L542.83,92.02 L543.24,93.23 L543.65,94.46 L544.07,95.68 L544.48,96.91 L544.9,98.15 L545.31,99.38 L545.73,100.62 L546.14,101.86 L546.56,103.11 L546.97,104.35 L547.39,105.6 L547.8,106.85" fill="none" stroke="#000" stroke-width="1.2" stroke-dasharray="4 2 1 2" clip-path="url(#c1)"/>
<rect x="465.3" y="25.4" width="82.5" height="54.9" fill="none" stroke="#9c9c9c" stroke-width="0.8"/>
<path d="M477.15,80.3 V78.7 M477.15,25.4 V27 M492.7,80.3 V78.7 M492.7,25.4 V27 M508.25,80.3 V78.7 M508.25,25.4 V27 M523.8,80.3 V78.7 M523.8,25.4 V27 M539.35,80.3 V78.7 M539.35,25.4 V27 M465.3,76.6 H466.9 M547.8,76.6 H546.2 M465.3,66 H466.9 M547.8,66 H546.2 M465.3,55.4 H466.9 M547.8,55.4 H546.2 M465.3,44.8 H466.9 M547.8,44.8 H546.2 M465.3,34.2 H466.9 M547.8,34.2 H546.2" stroke="#9c9c9c" stroke-width="0.8" fill="none"/>
<text x="492.7" y="94.4" font-size="11" class="t" text-anchor="middle" fill="#161616">3</text>
<text x="523.8" y="94.4" font-size="11" class="t" text-anchor="middle" fill="#161616">3.4</text>
<text x="460.5" y="80.5" font-size="11" class="t" text-anchor="end" fill="#161616">2.8</text>
<text x="460.5" y="69.9" font-size="11" class="t" text-anchor="end" fill="#161616">3</text>
<text x="460.5" y="59.3" font-size="11" class="t" text-anchor="end" fill="#161616">3.2</text>
<text x="460.5" y="48.7" font-size="11" class="t" text-anchor="end" fill="#161616">3.4</text>
<text x="460.5" y="38.1" font-size="11" class="t" text-anchor="end" fill="#161616">3.6</text>
<rect x="591.8" y="25.4" width="81.7" height="54.9" fill="#fff"/>
<path d="M591.8,195.18 L592.21,194.59 L592.62,193.95 L593.03,193.28 L593.44,192.57 L593.85,191.81 L594.26,191.01 L594.67,190.17 L595.08,189.28 L595.49,188.34 L595.91,187.36 L596.32,186.32 L596.73,185.23 L597.14,184.1 L597.55,182.91 L597.96,181.66 L598.37,180.37 L598.78,179.01 L599.19,177.61 L599.6,176.15 L600.01,174.63 L600.42,173.05 L600.83,171.42 L601.24,169.74 L601.65,168 L602.06,166.2 L602.47,164.35 L602.88,162.45 L603.3,160.49 L603.71,158.47 L604.12,156.41 L604.53,154.3 L604.94,152.13 L605.35,149.92 L605.76,147.66 L606.17,145.36 L606.58,143.02 L606.99,140.63 L607.4,138.2 L607.81,135.74 L608.22,133.24 L608.63,130.71 L609.04,128.15 L609.45,125.56 L609.86,122.95 L610.27,120.31 L610.69,117.66 L611.1,114.99 L611.51,112.3 L611.92,109.61 L612.33,106.91 L612.74,104.2 L613.15,101.49 L613.56,98.79 L613.97,96.09 L614.38,93.4 L614.79,90.72 L615.2,88.06 L615.61,85.41 L616.02,82.79 L616.43,80.2 L616.84,77.63 L617.25,75.1 L617.66,72.6 L618.08,70.14 L618.49,67.72 L618.9,65.35 L619.31,63.03 L619.72,60.76 L620.13,58.54 L620.54,56.38 L620.95,54.28 L621.36,52.25 L621.77,50.28 L622.18,48.38 L622.59,46.55 L623,44.8 L623.41,43.12 L623.82,41.52 L624.23,40 L624.64,38.56 L625.05,37.21 L625.47,35.95 L625.88,34.77 L626.29,33.68 L626.7,32.69 L627.11,31.79 L627.52,30.98 L627.93,30.27 L628.34,29.65 L628.75,29.13 L629.16,28.71 L629.57,28.39 L629.98,28.16 L630.39,28.04 L630.8,28.01 L631.21,28.09 L631.62,28.26 L632.03,28.53 L632.44,28.9 L632.86,29.37 L633.27,29.94 L633.68,30.6 L634.09,31.36 L634.5,32.21 L634.91,33.16 L635.32,34.19 L635.73,35.32 L636.14,36.54 L636.55,37.85 L636.96,39.24 L637.37,40.72 L637.78,42.28 L638.19,43.91 L638.6,45.63 L639.01,47.42 L639.42,49.28 L639.83,51.22 L640.25,53.22 L640.66,55.28 L641.07,57.41 L641.48,59.6 L641.89,61.84 L642.3,64.14 L642.71,66.48 L643.12,68.88 L643.53,71.32 L643.94,73.79 L644.35,76.31 L644.76,78.86 L645.17,81.44 L645.58,84.05 L645.99,86.68 L646.4,89.33 L646.81,92 L647.22,94.69 L647.64,97.38 L648.05,100.09 L648.46,102.79 L648.87,105.5 L649.28,108.2 L649.69,110.9 L650.1,113.59 L650.51,116.27 L650.92,118.93 L651.33,121.58 L651.74,124.21 L652.15,126.81 L652.56,129.38 L652.97,131.93 L653.38,134.44 L653.79,136.93 L654.2,139.37 L654.61,141.78 L655.03,144.15 L655.44,146.47 L655.85,148.75 L656.26,150.99 L656.67,153.18 L657.08,155.32 L657.49,157.41 L657.9,159.45 L658.31,161.43 L658.72,163.37 L659.13,165.25 L659.54,167.07 L659.95,168.84 L660.36,170.55 L660.77,172.21 L661.18,173.82 L661.59,175.36 L662,176.85 L662.42,178.29 L662.83,179.67 L663.24,181 L663.65,182.27 L664.06,183.48 L664.47,184.65 L664.88,185.76 L665.29,186.82 L665.7,187.84 L666.11,188.8 L666.52,189.71 L666.93,190.58 L667.34,191.4 L667.75,192.18 L668.16,192.92 L668.57,193.61 L668.98,194.26 L669.39,194.88 L669.81,195.45 L670.22,196 L670.63,196.5 L671.04,196.98 L671.45,197.42 L671.86,197.83 L672.27,198.22 L672.68,198.57 L673.09,198.9 L673.5,199.21" fill="none" stroke="#3535ff" stroke-width="1.05" clip-path="url(#c2)"/>
<path d="M591.8,196.77 L592.21,196.27 L592.62,195.74 L593.03,195.17 L593.44,194.56 L593.85,193.91 L594.26,193.22 L594.67,192.49 L595.08,191.72 L595.49,190.89 L595.91,190.03 L596.32,189.11 L596.73,188.14 L597.14,187.13 L597.55,186.06 L597.96,184.94 L598.37,183.76 L598.78,182.53 L599.19,181.25 L599.6,179.91 L600.01,178.51 L600.42,177.05 L600.83,175.54 L601.24,173.97 L601.65,172.34 L602.06,170.66 L602.47,168.92 L602.88,167.12 L603.3,165.26 L603.71,163.34 L604.12,161.38 L604.53,159.35 L604.94,157.27 L605.35,155.14 L605.76,152.96 L606.17,150.73 L606.58,148.45 L606.99,146.13 L607.4,143.76 L607.81,141.35 L608.22,138.89 L608.63,136.4 L609.04,133.87 L609.45,131.31 L609.86,128.72 L610.27,126.1 L610.69,123.46 L611.1,120.79 L611.51,118.11 L611.92,115.4 L612.33,112.69 L612.74,109.96 L613.15,107.23 L613.56,104.5 L613.97,101.76 L614.38,99.03 L614.79,96.31 L615.2,93.6 L615.61,90.9 L616.02,88.22 L616.43,85.56 L616.84,82.93 L617.25,80.32 L617.66,77.75 L618.08,75.21 L618.49,72.71 L618.9,70.26 L619.31,67.85 L619.72,65.49 L620.13,63.18 L620.54,60.93 L620.95,58.73 L621.36,56.6 L621.77,54.54 L622.18,52.54 L622.59,50.61 L623,48.76 L623.41,46.98 L623.82,45.28 L624.23,43.66 L624.64,42.13 L625.05,40.68 L625.47,39.32 L625.88,38.05 L626.29,36.87 L626.7,35.79 L627.11,34.8 L627.52,33.9 L627.93,33.1 L628.34,32.41 L628.75,31.81 L629.16,31.31 L629.57,30.91 L629.98,30.62 L630.39,30.43 L630.8,30.34 L631.21,30.35 L631.62,30.47 L632.03,30.68 L632.44,31 L632.86,31.43 L633.27,31.95 L633.68,32.57 L634.09,33.3 L634.5,34.12 L634.91,35.04 L635.32,36.05 L635.73,37.16 L636.14,38.36 L636.55,39.66 L636.96,41.04 L637.37,42.51 L637.78,44.06 L638.19,45.7 L638.6,47.42 L639.01,49.22 L639.42,51.09 L639.83,53.03 L640.25,55.05 L640.66,57.13 L641.07,59.28 L641.48,61.49 L641.89,63.76 L642.3,66.08 L642.71,68.45 L643.12,70.87 L643.53,73.34 L643.94,75.85 L644.35,78.39 L644.76,80.98 L645.17,83.59 L645.58,86.23 L645.99,88.89 L646.4,91.58 L646.81,94.28 L647.22,97 L647.64,99.72 L648.05,102.45 L648.46,105.19 L648.87,107.92 L649.28,110.65 L649.69,113.37 L650.1,116.09 L650.51,118.79 L650.92,121.47 L651.33,124.13 L651.74,126.77 L652.15,129.38 L652.56,131.96 L652.97,134.51 L653.38,137.03 L653.79,139.51 L654.2,141.96 L654.61,144.36 L655.03,146.72 L655.44,149.03 L655.85,151.3 L656.26,153.52 L656.67,155.69 L657.08,157.8 L657.49,159.87 L657.9,161.88 L658.31,163.83 L658.72,165.73 L659.13,167.58 L659.54,169.36 L659.95,171.09 L660.36,172.76 L660.77,174.37 L661.18,175.93 L661.59,177.43 L662,178.87 L662.42,180.25 L662.83,181.58 L663.24,182.85 L663.65,184.06 L664.06,185.23 L664.47,186.33 L664.88,187.39 L665.29,188.39 L665.7,189.34 L666.11,190.25 L666.52,191.11 L666.93,191.92 L667.34,192.68 L667.75,193.4 L668.16,194.08 L668.57,194.72 L668.98,195.32 L669.39,195.88 L669.81,196.4 L670.22,196.89 L670.63,197.35 L671.04,197.78 L671.45,198.17 L671.86,198.54 L672.27,198.88 L672.68,199.19 L673.09,199.48 L673.5,199.75" fill="none" stroke="#ff0000" stroke-width="1.3" stroke-dasharray="6 3" clip-path="url(#c2)"/>
<path d="M591.8,185.53 L592.21,184.67 L592.62,183.78 L593.03,182.86 L593.44,181.91 L593.85,180.93 L594.26,179.92 L594.67,178.89 L595.08,177.82 L595.49,176.73 L595.91,175.6 L596.32,174.45 L596.73,173.27 L597.14,172.05 L597.55,170.82 L597.96,169.55 L598.37,168.25 L598.78,166.93 L599.19,165.59 L599.6,164.21 L600.01,162.82 L600.42,161.4 L600.83,159.95 L601.24,158.48 L601.65,156.99 L602.06,155.48 L602.47,153.95 L602.88,152.4 L603.3,150.83 L603.71,149.24 L604.12,147.64 L604.53,146.03 L604.94,144.4 L605.35,142.75 L605.76,141.1 L606.17,139.44 L606.58,137.76 L606.99,136.08 L607.4,134.4 L607.81,132.71 L608.22,131.01 L608.63,129.31 L609.04,127.62 L609.45,125.92 L609.86,124.23 L610.27,122.54 L610.69,120.86 L611.1,119.18 L611.51,117.51 L611.92,115.85 L612.33,114.2 L612.74,112.57 L613.15,110.95 L613.56,109.34 L613.97,107.76 L614.38,106.19 L614.79,104.64 L615.2,103.11 L615.61,101.61 L616.02,100.13 L616.43,98.68 L616.84,97.25 L617.25,95.86 L617.66,94.49 L618.08,93.15 L618.49,91.85 L618.9,90.58 L619.31,89.35 L619.72,88.15 L620.13,86.99 L620.54,85.87 L620.95,84.79 L621.36,83.74 L621.77,82.74 L622.18,81.79 L622.59,80.87 L623,80 L623.41,79.18 L623.82,78.4 L624.23,77.67 L624.64,76.99 L625.05,76.35 L625.47,75.77 L625.88,75.23 L626.29,74.74 L626.7,74.31 L627.11,73.92 L627.52,73.59 L627.93,73.3 L628.34,73.07 L628.75,72.89 L629.16,72.77 L629.57,72.69 L629.98,72.67 L630.39,72.7 L630.8,72.78 L631.21,72.92 L631.62,73.11 L632.03,73.35 L632.44,73.64 L632.86,73.98 L633.27,74.37 L633.68,74.82 L634.09,75.31 L634.5,75.86 L634.91,76.45 L635.32,77.1 L635.73,77.79 L636.14,78.53 L636.55,79.31 L636.96,80.14 L637.37,81.02 L637.78,81.94 L638.19,82.9 L638.6,83.91 L639.01,84.96 L639.42,86.05 L639.83,87.18 L640.25,88.34 L640.66,89.55 L641.07,90.79 L641.48,92.06 L641.89,93.37 L642.3,94.71 L642.71,96.08 L643.12,97.48 L643.53,98.91 L643.94,100.37 L644.35,101.85 L644.76,103.36 L645.17,104.89 L645.58,106.44 L645.99,108.01 L646.4,109.6 L646.81,111.21 L647.22,112.83 L647.64,114.47 L648.05,116.12 L648.46,117.78 L648.87,119.45 L649.28,121.13 L649.69,122.81 L650.1,124.5 L650.51,126.2 L650.92,127.89 L651.33,129.59 L651.74,131.29 L652.15,132.98 L652.56,134.67 L652.97,136.36 L653.38,138.04 L653.79,139.71 L654.2,141.37 L654.61,143.02 L655.03,144.66 L655.44,146.29 L655.85,147.9 L656.26,149.5 L656.67,151.09 L657.08,152.65 L657.49,154.2 L657.9,155.73 L658.31,157.24 L658.72,158.72 L659.13,160.19 L659.54,161.63 L659.95,163.05 L660.36,164.44 L660.77,165.81 L661.18,167.15 L661.59,168.47 L662,169.76 L662.42,171.02 L662.83,172.25 L663.24,173.46 L663.65,174.64 L664.06,175.79 L664.47,176.91 L664.88,178 L665.29,179.06 L665.7,180.09 L666.11,181.09 L666.52,182.07 L666.93,183.01 L667.34,183.92 L667.75,184.81 L668.16,185.66 L668.57,186.49 L668.98,187.29 L669.39,188.06 L669.81,188.8 L670.22,189.51 L670.63,190.2 L671.04,190.86 L671.45,191.49 L671.86,192.1 L672.27,192.68 L672.68,193.24 L673.09,193.77 L673.5,194.28" fill="none" stroke="#000" stroke-width="1.2" stroke-dasharray="4 2 1 2" clip-path="url(#c2)"/>
<rect x="591.8" y="25.4" width="81.7" height="54.9" fill="none" stroke="#9c9c9c" stroke-width="0.8"/>
<path d="M605,80.3 V78.7 M605,25.4 V27 M630.2,80.3 V78.7 M630.2,25.4 V27 M655.4,80.3 V78.7 M655.4,25.4 V27 M591.8,57.3 H593.4 M673.5,57.3 H671.9 M591.8,28.3 H593.4 M673.5,28.3 H671.9" stroke="#9c9c9c" stroke-width="0.8" fill="none"/>
<text x="605" y="94.5" font-size="11" class="t" text-anchor="middle" fill="#161616">24</text>
<text x="630.2" y="94.5" font-size="11" class="t" text-anchor="middle" fill="#161616">26</text>
<text x="655.4" y="94.5" font-size="11" class="t" text-anchor="middle" fill="#161616">28</text>
<text x="587.5" y="61.2" font-size="11" class="t" text-anchor="end" fill="#161616">0.5</text>
<text x="587.5" y="32.2" font-size="11" class="t" text-anchor="end" fill="#161616">0.6</text>
<g transform="translate(13.9,117) rotate(-90)"><text x="0" y="0" font-family="Liberation Serif" font-size="14.8" text-anchor="middle" textLength="28.5" lengthAdjust="spacingAndGlyphs" fill="#333"><tspan font-style="italic">U</tspan>(<tspan font-style="italic">z</tspan>)</text></g>
<path d="M1.9,130.2 C0.0,128.6 -0.4,126.6 0.9,125.6 C2.2,124.6 1.9,122.6 0.2,121.2" fill="none" stroke="#111" stroke-width="1.15"/>
<text x="183.4" y="260.5" font-family="Liberation Serif" font-style="italic" font-size="15" text-anchor="middle" fill="#161616">z</text>
<g transform="translate(377.8,117.5) rotate(-90)"><text x="0" y="0" font-family="Liberation Serif" font-size="14.3" text-anchor="middle" textLength="44" lengthAdjust="spacingAndGlyphs" fill="#333"><tspan font-style="italic">u</tspan>(<tspan font-style="italic">X</tspan>, <tspan font-style="italic">τ</tspan>)</text></g>
<text x="543.7" y="261.5" font-family="Liberation Serif" font-style="italic" font-size="15" text-anchor="middle" fill="#161616">X</text>
<g transform="translate(438.6,52.7) rotate(-90)"><text x="0" y="0" font-family="Liberation Serif" font-size="12.9" text-anchor="middle" textLength="57.8" lengthAdjust="spacingAndGlyphs" fill="#333"><tspan font-style="italic">u</tspan>(<tspan font-style="italic">X</tspan>, 0.6<tspan font-style="italic">λ</tspan>)</text></g>
<text x="506.2" y="109" font-family="Liberation Serif" font-style="italic" font-size="14.5" text-anchor="middle" fill="#161616">X</text>
<g transform="translate(564.6,52.6) rotate(-90)"><text x="0" y="0" font-family="Liberation Serif" font-size="13.0" text-anchor="middle" textLength="46.4" lengthAdjust="spacingAndGlyphs" fill="#333"><tspan font-style="italic">u</tspan>(<tspan font-style="italic">X</tspan>, 5<tspan font-style="italic">λ</tspan>)</text></g>
<text x="632.5" y="109.2" font-family="Liberation Serif" font-style="italic" font-size="14.5" text-anchor="middle" fill="#161616">X</text>
<path d="M429.4,125 H460" stroke="#8c8c8c" stroke-width="0.9"/>
<path d="M465.2,125 L458.6,122.4 L460.3,125 L458.6,127.6 Z" fill="#1a1a1a"/>
<text x="446.4" y="118.4" font-family="Liberation Serif" font-style="italic" font-size="11" text-anchor="middle" fill="#333">τ</text>
<text x="95.4" y="297" font-family="Liberation Serif" font-weight="bold" font-size="17.5" textLength="21.6" lengthAdjust="spacingAndGlyphs" fill="#000"><tspan font-size="20" dy="0.9">(</tspan><tspan dy="-0.9">a</tspan><tspan font-size="20" dy="0.9">)</tspan></text>
<text x="123.1" y="296.4" font-family="Liberation Serif" font-size="13.9" textLength="130.7" lengthAdjust="spacingAndGlyphs" fill="#2e2e2e">Self-Similar Solution</text>
<text x="467" y="297" font-family="Liberation Serif" font-weight="bold" font-size="17.5" textLength="23.8" lengthAdjust="spacingAndGlyphs" fill="#000"><tspan font-size="20" dy="0.9">(</tspan><tspan dy="-0.9">b</tspan><tspan font-size="20" dy="0.9">)</tspan></text>
<text x="494.6" y="296.5" font-family="Liberation Serif" font-size="13.9" textLength="109.6" lengthAdjust="spacingAndGlyphs" fill="#2e2e2e">Tip Cell Solution</text>
</svg>
</body></html>
